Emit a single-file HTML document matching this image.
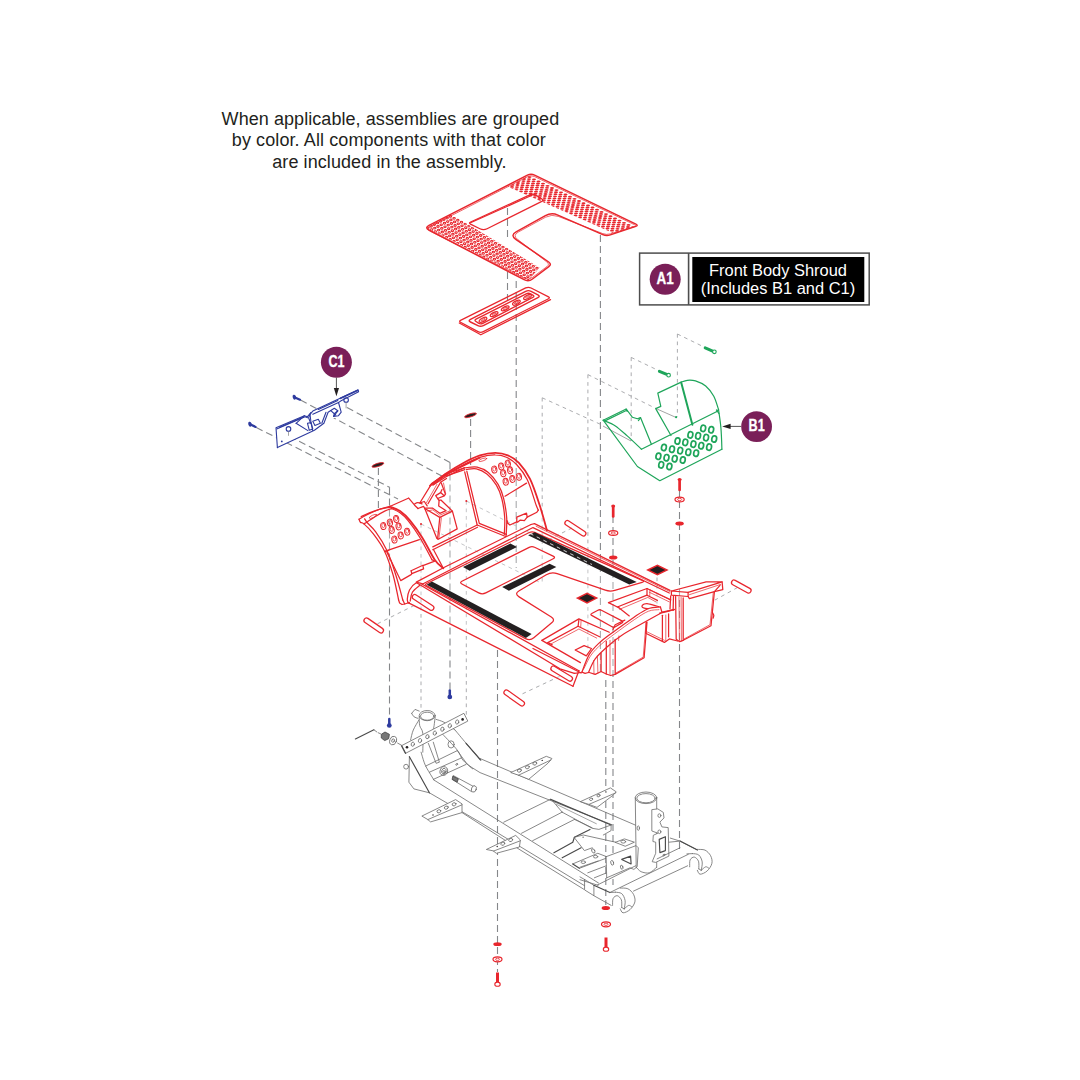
<!DOCTYPE html>
<html><head><meta charset="utf-8"><title>Front Body Shroud</title>
<style>
html,body{margin:0;padding:0;background:#fff;}
body{width:1080px;height:1080px;overflow:hidden;position:relative;font-family:"Liberation Sans",Arial,sans-serif;}
svg{position:absolute;left:0;top:0;}
.note{font-family:"Liberation Sans",Arial,sans-serif;font-size:18px;fill:#231f20;}
.r{stroke:#e8262d;fill:none;stroke-width:1.25;stroke-linejoin:round;stroke-linecap:round;}
.r2{stroke:#e8262d;fill:none;stroke-width:1.8;stroke-linejoin:round;stroke-linecap:round;}
.rt{stroke:#e8262d;fill:none;stroke-width:0.7;stroke-linejoin:round;stroke-linecap:round;}
.rd{stroke:#e8262d;fill:none;stroke-width:1.05;}
.rf{stroke:none;fill:#e8262d;}
.rw{stroke:#e8262d;fill:#fff;stroke-width:1.1;stroke-linejoin:round;}
.g{stroke:#1ea55a;fill:none;stroke-width:1.2;stroke-linejoin:round;stroke-linecap:round;}
.g2{stroke:#1ea55a;fill:none;stroke-width:2;stroke-linejoin:round;stroke-linecap:round;}
.gf{stroke:#1ea55a;fill:#1ea55a;stroke-width:0.6;}
.b{stroke:#2e3b9f;fill:none;stroke-width:1.1;stroke-linejoin:round;stroke-linecap:round;}
.b2{stroke:#2e3b9f;fill:none;stroke-width:1.8;stroke-linejoin:round;stroke-linecap:round;}
.bf{stroke:#2e3b9f;fill:#2e3b9f;stroke-width:0.6;}
.k{stroke:#6a6a6a;fill:none;stroke-width:0.8;stroke-linejoin:round;stroke-linecap:round;}
.kw{stroke:#6a6a6a;fill:#fff;stroke-width:0.8;stroke-linejoin:round;stroke-linecap:round;}
.k2{stroke:#4a4a4a;fill:none;stroke-width:1.15;stroke-linejoin:round;stroke-linecap:round;}
.kf{stroke:#444;fill:#777;stroke-width:0.8;}
.kt{stroke:#666;fill:none;stroke-width:0.6;}
.blk{fill:#231f20;stroke:none;}
.d{stroke:#85878a;fill:none;stroke-width:1.1;stroke-dasharray:7 4;}
.dt{stroke:#a1a3a6;fill:none;stroke-width:0.9;stroke-dasharray:3.7 3.8;}
.lbl{font-family:"Liberation Sans",Arial,sans-serif;font-weight:bold;font-size:16px;fill:#fff;text-anchor:middle;stroke:#fff;stroke-width:0.3;}
.lg{font-family:"Liberation Sans",Arial,sans-serif;font-size:16.45px;fill:#fff;text-anchor:middle;}
</style></head>
<body>
<svg width="1080" height="1080" viewBox="0 0 1080 1080">
<!-- note -->
<text class="note" x="221.6" y="124.5" textLength="337.6">When applicable, assemblies are grouped</text>
<text class="note" x="231.8" y="146" textLength="314">by color. All components with that color</text>
<text class="note" x="272.2" y="168" textLength="234.2">are included in the assembly.</text>
<!-- legend -->
<rect x="639.6" y="253.1" width="229.6" height="51.8" fill="#fff" stroke="#4d4d4d" stroke-width="1.5"/>
<line x1="688.6" y1="253.1" x2="688.6" y2="304.9" stroke="#4d4d4d" stroke-width="1.6"/>
<rect x="692.3" y="257" width="172" height="45" fill="#000"/>
<circle cx="665.2" cy="279.3" r="15.5" fill="#7a1f58"/>
<text class="lbl" x="665.2" y="283.7" textLength="17.2" lengthAdjust="spacingAndGlyphs">A1</text>
<text class="lg" x="778" y="276">Front Body Shroud</text>
<text class="lg" x="778" y="293.8">(Includes B1 and C1)</text>
<!-- dashes -->
<path class="d" d="M507.5 208 L507.5 241" />
<path class="d" d="M507.5 272 L507.5 300" />
<path class="d" d="M516.2 281 L516.2 568" />
<path class="d" d="M600.4 235 L600.4 672" />
<path class="d" d="M378.4 468 L378.4 511" />
<path class="d" d="M470.6 419 L470.6 465" />
<path class="d" d="M347 407.5 L450 462.5" />
<path class="d" d="M450 462.5 L450 690" />
<path class="d" d="M300.5 400 L442.5 476.3" />
<path class="d" d="M289.3 436.3 L390 487.5" />
<path class="d" d="M389.5 487.5 L389.5 717" />
<path class="d" d="M256.3 427.5 L398 499" />
<path class="dt" d="M421 524 L421 710" />
<path class="dt" d="M421 524 L542.2 583.5" />
<path class="dt" d="M466.3 501 L466.3 716" />
<path class="dt" d="M466.3 501 L587.9 562" />
<path class="dt" d="M542.2 397.8 L542.2 583.5" />
<path class="dt" d="M542.2 397.8 L603.3 425.6" />
<path class="dt" d="M587.9 374.6 L587.9 650" />
<path class="dt" d="M587.9 374.6 L655.7 408.4" />
<path class="dt" d="M631.2 357.4 L631.2 441" />
<path class="dt" d="M631.2 357.4 L658.8 370.7" />
<path class="dt" d="M677.4 334 L677.4 417" />
<path class="dt" d="M677.4 334 L704.6 347.3" />
<path class="kt" d="M655.7 408.4 L675 417" />
<path class="kt" d="M603 426 L631 441" />
<path class="d" d="M613 516 L613 885" />
<path class="d" d="M679.5 490 L679.5 850" />
<path class="d" d="M605.8 680 L605.8 905" />
<path class="d" d="M497.5 650 L497.5 972" />
<path class="dt" d="M657 577.5 L657 606" />
<path class="dt" d="M377.5 623.8 L415 605" />
<path class="dt" d="M522.5 693.8 L562.5 675" />
<path class="dt" d="M737.5 587.5 L715 600" />
<path class="dt" d="M572 528 L548 540" />
<!-- mat -->
<path class="r" d="M428.9 230 Q424.5 227.7 429 225.4 L527.4 175.2 Q531 173.4 534.6 175.1 L635.9 224.1 Q638.6 225.4 635.8 226.4 L610.3 234.9 Q606.5 236.2 602.8 234.6 L557.9 215.1 Q551.5 212.3 545.4 215.7 L516.1 231.9 Q510 235.3 515.8 239.3 L548.7 262 Q552 264.3 548.8 266.7 L532.5 279 Q528.5 282 524.1 279.7 Z" style="stroke-width:1.5"/>
<path class="rt" d="M430 231.1 Q425.5 228.9 430 226.6 L527.4 176.7 Q531 174.9 534.6 176.6 L634.4 224.7 Q637.1 226 634.2 226.8 L610.3 233.9 Q606.5 235 602.8 233.6 L558.3 216.4 Q551.8 213.9 545.6 217.2 L518.4 232 Q512.2 235.3 517.8 239.6 L546.8 261.9 Q550 264.3 546.8 266.7 L532.5 277.4 Q528.5 280.4 524 278.2 Z" />
<path class="r" d="M470.5 224.1 Q468.3 223 470.6 222 L530.3 194.6 Q533 193.3 535.5 194.9 L541.5 198.7 Q544 200.3 541.3 201.6 L487.1 228.8 Q483.5 230.6 479.9 228.8 Z" />
<path class="r" d="M470.5 222.8 L533 194.8" />
<clipPath id="cm1"><path d="M531 174.4 L636.6 225.7 L613.5 233.2 L507.6 186.6 Z"/></clipPath>
<g clip-path="url(#cm1)">
<ellipse class="rf" cx="507.5" cy="184.8" rx="2" ry="0.9" />
<ellipse class="rf" cx="507" cy="186.8" rx="2" ry="0.9" />
<ellipse class="rf" cx="513.5" cy="180.8" rx="2" ry="0.9" />
<ellipse class="rf" cx="513" cy="182.8" rx="2" ry="0.9" />
<ellipse class="rf" cx="512.5" cy="184.9" rx="2" ry="0.9" />
<ellipse class="rf" cx="512" cy="186.9" rx="2" ry="0.9" />
<ellipse class="rf" cx="511.5" cy="189" rx="2" ry="0.9" />
<ellipse class="rf" cx="519" cy="178.9" rx="2" ry="0.9" />
<ellipse class="rf" cx="518.5" cy="180.9" rx="2" ry="0.9" />
<ellipse class="rf" cx="518" cy="183" rx="2" ry="0.9" />
<ellipse class="rf" cx="517.5" cy="185" rx="2" ry="0.9" />
<ellipse class="rf" cx="517" cy="187.1" rx="2" ry="0.9" />
<ellipse class="rf" cx="516.5" cy="189.1" rx="2" ry="0.9" />
<ellipse class="rf" cx="516" cy="191.2" rx="2" ry="0.9" />
<ellipse class="rf" cx="525" cy="174.9" rx="2" ry="0.9" />
<ellipse class="rf" cx="524.5" cy="177" rx="2" ry="0.9" />
<ellipse class="rf" cx="524" cy="179" rx="2" ry="0.9" />
<ellipse class="rf" cx="523.5" cy="181.1" rx="2" ry="0.9" />
<ellipse class="rf" cx="523" cy="183.1" rx="2" ry="0.9" />
<ellipse class="rf" cx="522.5" cy="185.2" rx="2" ry="0.9" />
<ellipse class="rf" cx="522" cy="187.2" rx="2" ry="0.9" />
<ellipse class="rf" cx="521.5" cy="189.2" rx="2" ry="0.9" />
<ellipse class="rf" cx="521" cy="191.3" rx="2" ry="0.9" />
<ellipse class="rf" cx="520.5" cy="193.3" rx="2" ry="0.9" />
<ellipse class="rf" cx="529.5" cy="177.1" rx="2" ry="0.9" />
<ellipse class="rf" cx="529" cy="179.1" rx="2" ry="0.9" />
<ellipse class="rf" cx="528.5" cy="181.2" rx="2" ry="0.9" />
<ellipse class="rf" cx="528" cy="183.2" rx="2" ry="0.9" />
<ellipse class="rf" cx="527.5" cy="185.3" rx="2" ry="0.9" />
<ellipse class="rf" cx="527" cy="187.3" rx="2" ry="0.9" />
<ellipse class="rf" cx="526.5" cy="189.4" rx="2" ry="0.9" />
<ellipse class="rf" cx="526" cy="191.4" rx="2" ry="0.9" />
<ellipse class="rf" cx="525.5" cy="193.5" rx="2" ry="0.9" />
<ellipse class="rf" cx="525" cy="195.5" rx="2" ry="0.9" />
<ellipse class="rf" cx="534" cy="179.3" rx="2" ry="0.9" />
<ellipse class="rf" cx="533.5" cy="181.3" rx="2" ry="0.9" />
<ellipse class="rf" cx="533" cy="183.4" rx="2" ry="0.9" />
<ellipse class="rf" cx="532.5" cy="185.4" rx="2" ry="0.9" />
<ellipse class="rf" cx="532" cy="187.5" rx="2" ry="0.9" />
<ellipse class="rf" cx="531.5" cy="189.5" rx="2" ry="0.9" />
<ellipse class="rf" cx="531" cy="191.6" rx="2" ry="0.9" />
<ellipse class="rf" cx="530.5" cy="193.6" rx="2" ry="0.9" />
<ellipse class="rf" cx="530" cy="195.7" rx="2" ry="0.9" />
<ellipse class="rf" cx="529.5" cy="197.7" rx="2" ry="0.9" />
<ellipse class="rf" cx="538.5" cy="181.4" rx="2" ry="0.9" />
<ellipse class="rf" cx="538" cy="183.5" rx="2" ry="0.9" />
<ellipse class="rf" cx="537.5" cy="185.5" rx="2" ry="0.9" />
<ellipse class="rf" cx="537" cy="187.6" rx="2" ry="0.9" />
<ellipse class="rf" cx="536.5" cy="189.6" rx="2" ry="0.9" />
<ellipse class="rf" cx="536" cy="191.7" rx="2" ry="0.9" />
<ellipse class="rf" cx="535.5" cy="193.7" rx="2" ry="0.9" />
<ellipse class="rf" cx="535" cy="195.8" rx="2" ry="0.9" />
<ellipse class="rf" cx="534.5" cy="197.8" rx="2" ry="0.9" />
<ellipse class="rf" cx="534" cy="199.9" rx="2" ry="0.9" />
<ellipse class="rf" cx="543" cy="183.6" rx="2" ry="0.9" />
<ellipse class="rf" cx="542.5" cy="185.7" rx="2" ry="0.9" />
<ellipse class="rf" cx="542" cy="187.7" rx="2" ry="0.9" />
<ellipse class="rf" cx="541.5" cy="189.8" rx="2" ry="0.9" />
<ellipse class="rf" cx="541" cy="191.8" rx="2" ry="0.9" />
<ellipse class="rf" cx="540.5" cy="193.9" rx="2" ry="0.9" />
<ellipse class="rf" cx="540" cy="195.9" rx="2" ry="0.9" />
<ellipse class="rf" cx="539.5" cy="198" rx="2" ry="0.9" />
<ellipse class="rf" cx="539" cy="200" rx="2" ry="0.9" />
<ellipse class="rf" cx="538.5" cy="202.1" rx="2" ry="0.9" />
<ellipse class="rf" cx="547.5" cy="185.8" rx="2" ry="0.9" />
<ellipse class="rf" cx="547" cy="187.8" rx="2" ry="0.9" />
<ellipse class="rf" cx="546.5" cy="189.9" rx="2" ry="0.9" />
<ellipse class="rf" cx="546" cy="191.9" rx="2" ry="0.9" />
<ellipse class="rf" cx="545.5" cy="194" rx="2" ry="0.9" />
<ellipse class="rf" cx="545" cy="196" rx="2" ry="0.9" />
<ellipse class="rf" cx="544.5" cy="198.1" rx="2" ry="0.9" />
<ellipse class="rf" cx="544" cy="200.1" rx="2" ry="0.9" />
<ellipse class="rf" cx="543.5" cy="202.2" rx="2" ry="0.9" />
<ellipse class="rf" cx="543" cy="204.2" rx="2" ry="0.9" />
<ellipse class="rf" cx="552" cy="188" rx="2" ry="0.9" />
<ellipse class="rf" cx="551.5" cy="190" rx="2" ry="0.9" />
<ellipse class="rf" cx="551" cy="192.1" rx="2" ry="0.9" />
<ellipse class="rf" cx="550.5" cy="194.1" rx="2" ry="0.9" />
<ellipse class="rf" cx="550" cy="196.2" rx="2" ry="0.9" />
<ellipse class="rf" cx="549.5" cy="198.2" rx="2" ry="0.9" />
<ellipse class="rf" cx="549" cy="200.3" rx="2" ry="0.9" />
<ellipse class="rf" cx="548.5" cy="202.3" rx="2" ry="0.9" />
<ellipse class="rf" cx="548" cy="204.4" rx="2" ry="0.9" />
<ellipse class="rf" cx="547.5" cy="206.4" rx="2" ry="0.9" />
<ellipse class="rf" cx="556.5" cy="190.1" rx="2" ry="0.9" />
<ellipse class="rf" cx="556" cy="192.2" rx="2" ry="0.9" />
<ellipse class="rf" cx="555.5" cy="194.2" rx="2" ry="0.9" />
<ellipse class="rf" cx="555" cy="196.3" rx="2" ry="0.9" />
<ellipse class="rf" cx="554.5" cy="198.3" rx="2" ry="0.9" />
<ellipse class="rf" cx="554" cy="200.4" rx="2" ry="0.9" />
<ellipse class="rf" cx="553.5" cy="202.4" rx="2" ry="0.9" />
<ellipse class="rf" cx="553" cy="204.5" rx="2" ry="0.9" />
<ellipse class="rf" cx="552.5" cy="206.5" rx="2" ry="0.9" />
<ellipse class="rf" cx="552" cy="208.6" rx="2" ry="0.9" />
<ellipse class="rf" cx="561" cy="192.3" rx="2" ry="0.9" />
<ellipse class="rf" cx="560.5" cy="194.4" rx="2" ry="0.9" />
<ellipse class="rf" cx="560" cy="196.4" rx="2" ry="0.9" />
<ellipse class="rf" cx="559.5" cy="198.5" rx="2" ry="0.9" />
<ellipse class="rf" cx="559" cy="200.5" rx="2" ry="0.9" />
<ellipse class="rf" cx="558.5" cy="202.6" rx="2" ry="0.9" />
<ellipse class="rf" cx="558" cy="204.6" rx="2" ry="0.9" />
<ellipse class="rf" cx="557.5" cy="206.7" rx="2" ry="0.9" />
<ellipse class="rf" cx="557" cy="208.7" rx="2" ry="0.9" />
<ellipse class="rf" cx="556.5" cy="210.8" rx="2" ry="0.9" />
<ellipse class="rf" cx="565.5" cy="194.5" rx="2" ry="0.9" />
<ellipse class="rf" cx="565" cy="196.5" rx="2" ry="0.9" />
<ellipse class="rf" cx="564.5" cy="198.6" rx="2" ry="0.9" />
<ellipse class="rf" cx="564" cy="200.6" rx="2" ry="0.9" />
<ellipse class="rf" cx="563.5" cy="202.7" rx="2" ry="0.9" />
<ellipse class="rf" cx="563" cy="204.7" rx="2" ry="0.9" />
<ellipse class="rf" cx="562.5" cy="206.8" rx="2" ry="0.9" />
<ellipse class="rf" cx="562" cy="208.8" rx="2" ry="0.9" />
<ellipse class="rf" cx="561.5" cy="210.9" rx="2" ry="0.9" />
<ellipse class="rf" cx="570" cy="196.7" rx="2" ry="0.9" />
<ellipse class="rf" cx="569.5" cy="198.7" rx="2" ry="0.9" />
<ellipse class="rf" cx="569" cy="200.8" rx="2" ry="0.9" />
<ellipse class="rf" cx="568.5" cy="202.8" rx="2" ry="0.9" />
<ellipse class="rf" cx="568" cy="204.9" rx="2" ry="0.9" />
<ellipse class="rf" cx="567.5" cy="206.9" rx="2" ry="0.9" />
<ellipse class="rf" cx="567" cy="209" rx="2" ry="0.9" />
<ellipse class="rf" cx="566.5" cy="211" rx="2" ry="0.9" />
<ellipse class="rf" cx="566" cy="213.1" rx="2" ry="0.9" />
<ellipse class="rf" cx="574.5" cy="198.8" rx="2" ry="0.9" />
<ellipse class="rf" cx="574" cy="200.9" rx="2" ry="0.9" />
<ellipse class="rf" cx="573.5" cy="202.9" rx="2" ry="0.9" />
<ellipse class="rf" cx="573" cy="205" rx="2" ry="0.9" />
<ellipse class="rf" cx="572.5" cy="207" rx="2" ry="0.9" />
<ellipse class="rf" cx="572" cy="209.1" rx="2" ry="0.9" />
<ellipse class="rf" cx="571.5" cy="211.1" rx="2" ry="0.9" />
<ellipse class="rf" cx="571" cy="213.2" rx="2" ry="0.9" />
<ellipse class="rf" cx="570.5" cy="215.2" rx="2" ry="0.9" />
<ellipse class="rf" cx="579" cy="201" rx="2" ry="0.9" />
<ellipse class="rf" cx="578.5" cy="203.1" rx="2" ry="0.9" />
<ellipse class="rf" cx="578" cy="205.1" rx="2" ry="0.9" />
<ellipse class="rf" cx="577.5" cy="207.2" rx="2" ry="0.9" />
<ellipse class="rf" cx="577" cy="209.2" rx="2" ry="0.9" />
<ellipse class="rf" cx="576.5" cy="211.3" rx="2" ry="0.9" />
<ellipse class="rf" cx="576" cy="213.3" rx="2" ry="0.9" />
<ellipse class="rf" cx="575.5" cy="215.4" rx="2" ry="0.9" />
<ellipse class="rf" cx="575" cy="217.4" rx="2" ry="0.9" />
<ellipse class="rf" cx="583.5" cy="203.2" rx="2" ry="0.9" />
<ellipse class="rf" cx="583" cy="205.2" rx="2" ry="0.9" />
<ellipse class="rf" cx="582.5" cy="207.3" rx="2" ry="0.9" />
<ellipse class="rf" cx="582" cy="209.3" rx="2" ry="0.9" />
<ellipse class="rf" cx="581.5" cy="211.4" rx="2" ry="0.9" />
<ellipse class="rf" cx="581" cy="213.4" rx="2" ry="0.9" />
<ellipse class="rf" cx="580.5" cy="215.5" rx="2" ry="0.9" />
<ellipse class="rf" cx="580" cy="217.5" rx="2" ry="0.9" />
<ellipse class="rf" cx="579.5" cy="219.6" rx="2" ry="0.9" />
<ellipse class="rf" cx="588" cy="205.4" rx="2" ry="0.9" />
<ellipse class="rf" cx="587.5" cy="207.4" rx="2" ry="0.9" />
<ellipse class="rf" cx="587" cy="209.5" rx="2" ry="0.9" />
<ellipse class="rf" cx="586.5" cy="211.5" rx="2" ry="0.9" />
<ellipse class="rf" cx="586" cy="213.6" rx="2" ry="0.9" />
<ellipse class="rf" cx="585.5" cy="215.6" rx="2" ry="0.9" />
<ellipse class="rf" cx="585" cy="217.7" rx="2" ry="0.9" />
<ellipse class="rf" cx="584.5" cy="219.7" rx="2" ry="0.9" />
<ellipse class="rf" cx="584" cy="221.8" rx="2" ry="0.9" />
<ellipse class="rf" cx="592.5" cy="207.5" rx="2" ry="0.9" />
<ellipse class="rf" cx="592" cy="209.6" rx="2" ry="0.9" />
<ellipse class="rf" cx="591.5" cy="211.6" rx="2" ry="0.9" />
<ellipse class="rf" cx="591" cy="213.7" rx="2" ry="0.9" />
<ellipse class="rf" cx="590.5" cy="215.7" rx="2" ry="0.9" />
<ellipse class="rf" cx="590" cy="217.8" rx="2" ry="0.9" />
<ellipse class="rf" cx="589.5" cy="219.8" rx="2" ry="0.9" />
<ellipse class="rf" cx="589" cy="221.9" rx="2" ry="0.9" />
<ellipse class="rf" cx="588.5" cy="223.9" rx="2" ry="0.9" />
<ellipse class="rf" cx="597" cy="209.7" rx="2" ry="0.9" />
<ellipse class="rf" cx="596.5" cy="211.8" rx="2" ry="0.9" />
<ellipse class="rf" cx="596" cy="213.8" rx="2" ry="0.9" />
<ellipse class="rf" cx="595.5" cy="215.9" rx="2" ry="0.9" />
<ellipse class="rf" cx="595" cy="217.9" rx="2" ry="0.9" />
<ellipse class="rf" cx="594.5" cy="220" rx="2" ry="0.9" />
<ellipse class="rf" cx="594" cy="222" rx="2" ry="0.9" />
<ellipse class="rf" cx="593.5" cy="224.1" rx="2" ry="0.9" />
<ellipse class="rf" cx="593" cy="226.1" rx="2" ry="0.9" />
<ellipse class="rf" cx="601.5" cy="211.9" rx="2" ry="0.9" />
<ellipse class="rf" cx="601" cy="213.9" rx="2" ry="0.9" />
<ellipse class="rf" cx="600.5" cy="216" rx="2" ry="0.9" />
<ellipse class="rf" cx="600" cy="218" rx="2" ry="0.9" />
<ellipse class="rf" cx="599.5" cy="220.1" rx="2" ry="0.9" />
<ellipse class="rf" cx="599" cy="222.1" rx="2" ry="0.9" />
<ellipse class="rf" cx="598.5" cy="224.2" rx="2" ry="0.9" />
<ellipse class="rf" cx="598" cy="226.2" rx="2" ry="0.9" />
<ellipse class="rf" cx="597.5" cy="228.3" rx="2" ry="0.9" />
<ellipse class="rf" cx="606" cy="214.1" rx="2" ry="0.9" />
<ellipse class="rf" cx="605.5" cy="216.1" rx="2" ry="0.9" />
<ellipse class="rf" cx="605" cy="218.2" rx="2" ry="0.9" />
<ellipse class="rf" cx="604.5" cy="220.2" rx="2" ry="0.9" />
<ellipse class="rf" cx="604" cy="222.3" rx="2" ry="0.9" />
<ellipse class="rf" cx="603.5" cy="224.3" rx="2" ry="0.9" />
<ellipse class="rf" cx="603" cy="226.4" rx="2" ry="0.9" />
<ellipse class="rf" cx="602.5" cy="228.4" rx="2" ry="0.9" />
<ellipse class="rf" cx="602" cy="230.5" rx="2" ry="0.9" />
<ellipse class="rf" cx="610.5" cy="216.2" rx="2" ry="0.9" />
<ellipse class="rf" cx="610" cy="218.3" rx="2" ry="0.9" />
<ellipse class="rf" cx="609.5" cy="220.3" rx="2" ry="0.9" />
<ellipse class="rf" cx="609" cy="222.4" rx="2" ry="0.9" />
<ellipse class="rf" cx="608.5" cy="224.4" rx="2" ry="0.9" />
<ellipse class="rf" cx="608" cy="226.5" rx="2" ry="0.9" />
<ellipse class="rf" cx="607.5" cy="228.5" rx="2" ry="0.9" />
<ellipse class="rf" cx="607" cy="230.6" rx="2" ry="0.9" />
<ellipse class="rf" cx="606.5" cy="232.6" rx="2" ry="0.9" />
<ellipse class="rf" cx="615" cy="218.4" rx="2" ry="0.9" />
<ellipse class="rf" cx="614.5" cy="220.5" rx="2" ry="0.9" />
<ellipse class="rf" cx="614" cy="222.5" rx="2" ry="0.9" />
<ellipse class="rf" cx="613.5" cy="224.6" rx="2" ry="0.9" />
<ellipse class="rf" cx="613" cy="226.6" rx="2" ry="0.9" />
<ellipse class="rf" cx="612.5" cy="228.7" rx="2" ry="0.9" />
<ellipse class="rf" cx="612" cy="230.7" rx="2" ry="0.9" />
<ellipse class="rf" cx="611.5" cy="232.8" rx="2" ry="0.9" />
<ellipse class="rf" cx="611" cy="234.8" rx="2" ry="0.9" />
<ellipse class="rf" cx="619.5" cy="220.6" rx="2" ry="0.9" />
<ellipse class="rf" cx="619" cy="222.6" rx="2" ry="0.9" />
<ellipse class="rf" cx="618.5" cy="224.7" rx="2" ry="0.9" />
<ellipse class="rf" cx="618" cy="226.7" rx="2" ry="0.9" />
<ellipse class="rf" cx="617.5" cy="228.8" rx="2" ry="0.9" />
<ellipse class="rf" cx="617" cy="230.8" rx="2" ry="0.9" />
<ellipse class="rf" cx="616.5" cy="232.9" rx="2" ry="0.9" />
<ellipse class="rf" cx="616" cy="234.9" rx="2" ry="0.9" />
<ellipse class="rf" cx="624" cy="222.8" rx="2" ry="0.9" />
<ellipse class="rf" cx="623.5" cy="224.8" rx="2" ry="0.9" />
<ellipse class="rf" cx="623" cy="226.9" rx="2" ry="0.9" />
<ellipse class="rf" cx="622.5" cy="228.9" rx="2" ry="0.9" />
<ellipse class="rf" cx="622" cy="231" rx="2" ry="0.9" />
<ellipse class="rf" cx="621.5" cy="233" rx="2" ry="0.9" />
<ellipse class="rf" cx="628.5" cy="224.9" rx="2" ry="0.9" />
<ellipse class="rf" cx="628" cy="227" rx="2" ry="0.9" />
<ellipse class="rf" cx="627.5" cy="229" rx="2" ry="0.9" />
<ellipse class="rf" cx="627" cy="231.1" rx="2" ry="0.9" />
<ellipse class="rf" cx="633" cy="227.1" rx="2" ry="0.9" />
<ellipse class="rf" cx="632.5" cy="229.2" rx="2" ry="0.9" />
</g>
<clipPath id="cm2"><path d="M426.5 227.7 L451 214 L539.5 267.8 L528.5 280.5 Z"/></clipPath>
<g clip-path="url(#cm2)">
<ellipse class="rd" cx="427.9" cy="227.8" rx="1.2" ry="0.9" />
<ellipse class="rd" cx="431.1" cy="226.2" rx="1.2" ry="0.9" />
<ellipse class="rd" cx="434.3" cy="224.5" rx="1.2" ry="0.9" />
<ellipse class="rd" cx="437.5" cy="222.9" rx="1.2" ry="0.9" />
<ellipse class="rd" cx="440.7" cy="221.3" rx="1.2" ry="0.9" />
<ellipse class="rd" cx="443.9" cy="219.6" rx="1.2" ry="0.9" />
<ellipse class="rd" cx="447.1" cy="218" rx="1.2" ry="0.9" />
<ellipse class="rd" cx="450.4" cy="216.4" rx="1.2" ry="0.9" />
<ellipse class="rd" cx="431.6" cy="229.7" rx="1.2" ry="0.9" />
<ellipse class="rd" cx="434.8" cy="228.1" rx="1.2" ry="0.9" />
<ellipse class="rd" cx="438" cy="226.5" rx="1.2" ry="0.9" />
<ellipse class="rd" cx="441.2" cy="224.8" rx="1.2" ry="0.9" />
<ellipse class="rd" cx="444.5" cy="223.2" rx="1.2" ry="0.9" />
<ellipse class="rd" cx="447.7" cy="221.6" rx="1.2" ry="0.9" />
<ellipse class="rd" cx="450.9" cy="219.9" rx="1.2" ry="0.9" />
<ellipse class="rd" cx="454.1" cy="218.3" rx="1.2" ry="0.9" />
<ellipse class="rd" cx="435.3" cy="231.7" rx="1.2" ry="0.9" />
<ellipse class="rd" cx="438.6" cy="230.1" rx="1.2" ry="0.9" />
<ellipse class="rd" cx="441.8" cy="228.4" rx="1.2" ry="0.9" />
<ellipse class="rd" cx="445" cy="226.8" rx="1.2" ry="0.9" />
<ellipse class="rd" cx="448.2" cy="225.1" rx="1.2" ry="0.9" />
<ellipse class="rd" cx="451.4" cy="223.5" rx="1.2" ry="0.9" />
<ellipse class="rd" cx="454.6" cy="221.9" rx="1.2" ry="0.9" />
<ellipse class="rd" cx="457.8" cy="220.2" rx="1.2" ry="0.9" />
<ellipse class="rd" cx="439.1" cy="233.6" rx="1.2" ry="0.9" />
<ellipse class="rd" cx="442.3" cy="232" rx="1.2" ry="0.9" />
<ellipse class="rd" cx="445.5" cy="230.4" rx="1.2" ry="0.9" />
<ellipse class="rd" cx="448.7" cy="228.7" rx="1.2" ry="0.9" />
<ellipse class="rd" cx="451.9" cy="227.1" rx="1.2" ry="0.9" />
<ellipse class="rd" cx="455.1" cy="225.5" rx="1.2" ry="0.9" />
<ellipse class="rd" cx="458.3" cy="223.8" rx="1.2" ry="0.9" />
<ellipse class="rd" cx="461.5" cy="222.2" rx="1.2" ry="0.9" />
<ellipse class="rd" cx="442.8" cy="235.6" rx="1.2" ry="0.9" />
<ellipse class="rd" cx="446" cy="233.9" rx="1.2" ry="0.9" />
<ellipse class="rd" cx="449.2" cy="232.3" rx="1.2" ry="0.9" />
<ellipse class="rd" cx="452.4" cy="230.7" rx="1.2" ry="0.9" />
<ellipse class="rd" cx="455.6" cy="229" rx="1.2" ry="0.9" />
<ellipse class="rd" cx="458.8" cy="227.4" rx="1.2" ry="0.9" />
<ellipse class="rd" cx="462" cy="225.8" rx="1.2" ry="0.9" />
<ellipse class="rd" cx="465.2" cy="224.1" rx="1.2" ry="0.9" />
<ellipse class="rd" cx="446.5" cy="237.5" rx="1.2" ry="0.9" />
<ellipse class="rd" cx="449.7" cy="235.9" rx="1.2" ry="0.9" />
<ellipse class="rd" cx="452.9" cy="234.2" rx="1.2" ry="0.9" />
<ellipse class="rd" cx="456.1" cy="232.6" rx="1.2" ry="0.9" />
<ellipse class="rd" cx="459.3" cy="231" rx="1.2" ry="0.9" />
<ellipse class="rd" cx="462.6" cy="229.3" rx="1.2" ry="0.9" />
<ellipse class="rd" cx="465.8" cy="227.7" rx="1.2" ry="0.9" />
<ellipse class="rd" cx="469" cy="226.1" rx="1.2" ry="0.9" />
<ellipse class="rd" cx="450.2" cy="239.5" rx="1.2" ry="0.9" />
<ellipse class="rd" cx="453.4" cy="237.8" rx="1.2" ry="0.9" />
<ellipse class="rd" cx="456.7" cy="236.2" rx="1.2" ry="0.9" />
<ellipse class="rd" cx="459.9" cy="234.6" rx="1.2" ry="0.9" />
<ellipse class="rd" cx="463.1" cy="232.9" rx="1.2" ry="0.9" />
<ellipse class="rd" cx="466.3" cy="231.3" rx="1.2" ry="0.9" />
<ellipse class="rd" cx="469.5" cy="229.7" rx="1.2" ry="0.9" />
<ellipse class="rd" cx="472.7" cy="228" rx="1.2" ry="0.9" />
<ellipse class="rd" cx="454" cy="241.4" rx="1.2" ry="0.9" />
<ellipse class="rd" cx="457.2" cy="239.8" rx="1.2" ry="0.9" />
<ellipse class="rd" cx="460.4" cy="238.1" rx="1.2" ry="0.9" />
<ellipse class="rd" cx="463.6" cy="236.5" rx="1.2" ry="0.9" />
<ellipse class="rd" cx="466.8" cy="234.9" rx="1.2" ry="0.9" />
<ellipse class="rd" cx="470" cy="233.2" rx="1.2" ry="0.9" />
<ellipse class="rd" cx="473.2" cy="231.6" rx="1.2" ry="0.9" />
<ellipse class="rd" cx="476.4" cy="230" rx="1.2" ry="0.9" />
<ellipse class="rd" cx="457.7" cy="243.4" rx="1.2" ry="0.9" />
<ellipse class="rd" cx="460.9" cy="241.7" rx="1.2" ry="0.9" />
<ellipse class="rd" cx="464.1" cy="240.1" rx="1.2" ry="0.9" />
<ellipse class="rd" cx="467.3" cy="238.4" rx="1.2" ry="0.9" />
<ellipse class="rd" cx="470.5" cy="236.8" rx="1.2" ry="0.9" />
<ellipse class="rd" cx="473.7" cy="235.2" rx="1.2" ry="0.9" />
<ellipse class="rd" cx="476.9" cy="233.5" rx="1.2" ry="0.9" />
<ellipse class="rd" cx="480.1" cy="231.9" rx="1.2" ry="0.9" />
<ellipse class="rd" cx="461.4" cy="245.3" rx="1.2" ry="0.9" />
<ellipse class="rd" cx="464.6" cy="243.7" rx="1.2" ry="0.9" />
<ellipse class="rd" cx="467.8" cy="242" rx="1.2" ry="0.9" />
<ellipse class="rd" cx="471" cy="240.4" rx="1.2" ry="0.9" />
<ellipse class="rd" cx="474.2" cy="238.8" rx="1.2" ry="0.9" />
<ellipse class="rd" cx="477.4" cy="237.1" rx="1.2" ry="0.9" />
<ellipse class="rd" cx="480.7" cy="235.5" rx="1.2" ry="0.9" />
<ellipse class="rd" cx="483.9" cy="233.8" rx="1.2" ry="0.9" />
<ellipse class="rd" cx="465.1" cy="247.2" rx="1.2" ry="0.9" />
<ellipse class="rd" cx="468.3" cy="245.6" rx="1.2" ry="0.9" />
<ellipse class="rd" cx="471.5" cy="244" rx="1.2" ry="0.9" />
<ellipse class="rd" cx="474.8" cy="242.3" rx="1.2" ry="0.9" />
<ellipse class="rd" cx="478" cy="240.7" rx="1.2" ry="0.9" />
<ellipse class="rd" cx="481.2" cy="239.1" rx="1.2" ry="0.9" />
<ellipse class="rd" cx="484.4" cy="237.4" rx="1.2" ry="0.9" />
<ellipse class="rd" cx="487.6" cy="235.8" rx="1.2" ry="0.9" />
<ellipse class="rd" cx="468.9" cy="249.2" rx="1.2" ry="0.9" />
<ellipse class="rd" cx="472.1" cy="247.5" rx="1.2" ry="0.9" />
<ellipse class="rd" cx="475.3" cy="245.9" rx="1.2" ry="0.9" />
<ellipse class="rd" cx="478.5" cy="244.3" rx="1.2" ry="0.9" />
<ellipse class="rd" cx="481.7" cy="242.6" rx="1.2" ry="0.9" />
<ellipse class="rd" cx="484.9" cy="241" rx="1.2" ry="0.9" />
<ellipse class="rd" cx="488.1" cy="239.4" rx="1.2" ry="0.9" />
<ellipse class="rd" cx="491.3" cy="237.7" rx="1.2" ry="0.9" />
<ellipse class="rd" cx="472.6" cy="251.1" rx="1.2" ry="0.9" />
<ellipse class="rd" cx="475.8" cy="249.5" rx="1.2" ry="0.9" />
<ellipse class="rd" cx="479" cy="247.9" rx="1.2" ry="0.9" />
<ellipse class="rd" cx="482.2" cy="246.2" rx="1.2" ry="0.9" />
<ellipse class="rd" cx="485.4" cy="244.6" rx="1.2" ry="0.9" />
<ellipse class="rd" cx="488.6" cy="243" rx="1.2" ry="0.9" />
<ellipse class="rd" cx="491.8" cy="241.3" rx="1.2" ry="0.9" />
<ellipse class="rd" cx="495" cy="239.7" rx="1.2" ry="0.9" />
<ellipse class="rd" cx="476.3" cy="253.1" rx="1.2" ry="0.9" />
<ellipse class="rd" cx="479.5" cy="251.4" rx="1.2" ry="0.9" />
<ellipse class="rd" cx="482.7" cy="249.8" rx="1.2" ry="0.9" />
<ellipse class="rd" cx="485.9" cy="248.2" rx="1.2" ry="0.9" />
<ellipse class="rd" cx="489.1" cy="246.5" rx="1.2" ry="0.9" />
<ellipse class="rd" cx="492.3" cy="244.9" rx="1.2" ry="0.9" />
<ellipse class="rd" cx="495.5" cy="243.3" rx="1.2" ry="0.9" />
<ellipse class="rd" cx="498.8" cy="241.6" rx="1.2" ry="0.9" />
<ellipse class="rd" cx="480" cy="255" rx="1.2" ry="0.9" />
<ellipse class="rd" cx="483.2" cy="253.4" rx="1.2" ry="0.9" />
<ellipse class="rd" cx="486.4" cy="251.7" rx="1.2" ry="0.9" />
<ellipse class="rd" cx="489.6" cy="250.1" rx="1.2" ry="0.9" />
<ellipse class="rd" cx="492.9" cy="248.5" rx="1.2" ry="0.9" />
<ellipse class="rd" cx="496.1" cy="246.8" rx="1.2" ry="0.9" />
<ellipse class="rd" cx="499.3" cy="245.2" rx="1.2" ry="0.9" />
<ellipse class="rd" cx="502.5" cy="243.6" rx="1.2" ry="0.9" />
<ellipse class="rd" cx="483.7" cy="257" rx="1.2" ry="0.9" />
<ellipse class="rd" cx="487" cy="255.3" rx="1.2" ry="0.9" />
<ellipse class="rd" cx="490.2" cy="253.7" rx="1.2" ry="0.9" />
<ellipse class="rd" cx="493.4" cy="252.1" rx="1.2" ry="0.9" />
<ellipse class="rd" cx="496.6" cy="250.4" rx="1.2" ry="0.9" />
<ellipse class="rd" cx="499.8" cy="248.8" rx="1.2" ry="0.9" />
<ellipse class="rd" cx="503" cy="247.1" rx="1.2" ry="0.9" />
<ellipse class="rd" cx="506.2" cy="245.5" rx="1.2" ry="0.9" />
<ellipse class="rd" cx="487.5" cy="258.9" rx="1.2" ry="0.9" />
<ellipse class="rd" cx="490.7" cy="257.3" rx="1.2" ry="0.9" />
<ellipse class="rd" cx="493.9" cy="255.6" rx="1.2" ry="0.9" />
<ellipse class="rd" cx="497.1" cy="254" rx="1.2" ry="0.9" />
<ellipse class="rd" cx="500.3" cy="252.4" rx="1.2" ry="0.9" />
<ellipse class="rd" cx="503.5" cy="250.7" rx="1.2" ry="0.9" />
<ellipse class="rd" cx="506.7" cy="249.1" rx="1.2" ry="0.9" />
<ellipse class="rd" cx="509.9" cy="247.5" rx="1.2" ry="0.9" />
<ellipse class="rd" cx="491.2" cy="260.8" rx="1.2" ry="0.9" />
<ellipse class="rd" cx="494.4" cy="259.2" rx="1.2" ry="0.9" />
<ellipse class="rd" cx="497.6" cy="257.6" rx="1.2" ry="0.9" />
<ellipse class="rd" cx="500.8" cy="255.9" rx="1.2" ry="0.9" />
<ellipse class="rd" cx="504" cy="254.3" rx="1.2" ry="0.9" />
<ellipse class="rd" cx="507.2" cy="252.7" rx="1.2" ry="0.9" />
<ellipse class="rd" cx="510.4" cy="251" rx="1.2" ry="0.9" />
<ellipse class="rd" cx="513.6" cy="249.4" rx="1.2" ry="0.9" />
<ellipse class="rd" cx="494.9" cy="262.8" rx="1.2" ry="0.9" />
<ellipse class="rd" cx="498.1" cy="261.2" rx="1.2" ry="0.9" />
<ellipse class="rd" cx="501.3" cy="259.5" rx="1.2" ry="0.9" />
<ellipse class="rd" cx="504.5" cy="257.9" rx="1.2" ry="0.9" />
<ellipse class="rd" cx="507.7" cy="256.2" rx="1.2" ry="0.9" />
<ellipse class="rd" cx="511" cy="254.6" rx="1.2" ry="0.9" />
<ellipse class="rd" cx="514.2" cy="253" rx="1.2" ry="0.9" />
<ellipse class="rd" cx="498.6" cy="264.7" rx="1.2" ry="0.9" />
<ellipse class="rd" cx="501.8" cy="263.1" rx="1.2" ry="0.9" />
<ellipse class="rd" cx="505.1" cy="261.5" rx="1.2" ry="0.9" />
<ellipse class="rd" cx="508.3" cy="259.8" rx="1.2" ry="0.9" />
<ellipse class="rd" cx="511.5" cy="258.2" rx="1.2" ry="0.9" />
<ellipse class="rd" cx="514.7" cy="256.6" rx="1.2" ry="0.9" />
<ellipse class="rd" cx="517.9" cy="254.9" rx="1.2" ry="0.9" />
<ellipse class="rd" cx="502.4" cy="266.7" rx="1.2" ry="0.9" />
<ellipse class="rd" cx="505.6" cy="265" rx="1.2" ry="0.9" />
<ellipse class="rd" cx="508.8" cy="263.4" rx="1.2" ry="0.9" />
<ellipse class="rd" cx="512" cy="261.8" rx="1.2" ry="0.9" />
<ellipse class="rd" cx="515.2" cy="260.1" rx="1.2" ry="0.9" />
<ellipse class="rd" cx="518.4" cy="258.5" rx="1.2" ry="0.9" />
<ellipse class="rd" cx="521.6" cy="256.9" rx="1.2" ry="0.9" />
<ellipse class="rd" cx="506.1" cy="268.6" rx="1.2" ry="0.9" />
<ellipse class="rd" cx="509.3" cy="267" rx="1.2" ry="0.9" />
<ellipse class="rd" cx="512.5" cy="265.4" rx="1.2" ry="0.9" />
<ellipse class="rd" cx="515.7" cy="263.7" rx="1.2" ry="0.9" />
<ellipse class="rd" cx="518.9" cy="262.1" rx="1.2" ry="0.9" />
<ellipse class="rd" cx="522.1" cy="260.4" rx="1.2" ry="0.9" />
<ellipse class="rd" cx="525.3" cy="258.8" rx="1.2" ry="0.9" />
<ellipse class="rd" cx="509.8" cy="270.6" rx="1.2" ry="0.9" />
<ellipse class="rd" cx="513" cy="268.9" rx="1.2" ry="0.9" />
<ellipse class="rd" cx="516.2" cy="267.3" rx="1.2" ry="0.9" />
<ellipse class="rd" cx="519.4" cy="265.7" rx="1.2" ry="0.9" />
<ellipse class="rd" cx="522.6" cy="264" rx="1.2" ry="0.9" />
<ellipse class="rd" cx="525.8" cy="262.4" rx="1.2" ry="0.9" />
<ellipse class="rd" cx="529.1" cy="260.8" rx="1.2" ry="0.9" />
<ellipse class="rd" cx="513.5" cy="272.5" rx="1.2" ry="0.9" />
<ellipse class="rd" cx="516.7" cy="270.9" rx="1.2" ry="0.9" />
<ellipse class="rd" cx="519.9" cy="269.2" rx="1.2" ry="0.9" />
<ellipse class="rd" cx="523.2" cy="267.6" rx="1.2" ry="0.9" />
<ellipse class="rd" cx="526.4" cy="266" rx="1.2" ry="0.9" />
<ellipse class="rd" cx="529.6" cy="264.3" rx="1.2" ry="0.9" />
<ellipse class="rd" cx="532.8" cy="262.7" rx="1.2" ry="0.9" />
<ellipse class="rd" cx="517.3" cy="274.5" rx="1.2" ry="0.9" />
<ellipse class="rd" cx="520.5" cy="272.8" rx="1.2" ry="0.9" />
<ellipse class="rd" cx="523.7" cy="271.2" rx="1.2" ry="0.9" />
<ellipse class="rd" cx="526.9" cy="269.5" rx="1.2" ry="0.9" />
<ellipse class="rd" cx="530.1" cy="267.9" rx="1.2" ry="0.9" />
<ellipse class="rd" cx="533.3" cy="266.3" rx="1.2" ry="0.9" />
<ellipse class="rd" cx="536.5" cy="264.6" rx="1.2" ry="0.9" />
<ellipse class="rd" cx="521" cy="276.4" rx="1.2" ry="0.9" />
<ellipse class="rd" cx="524.2" cy="274.8" rx="1.2" ry="0.9" />
<ellipse class="rd" cx="527.4" cy="273.1" rx="1.2" ry="0.9" />
<ellipse class="rd" cx="530.6" cy="271.5" rx="1.2" ry="0.9" />
<ellipse class="rd" cx="533.8" cy="269.9" rx="1.2" ry="0.9" />
<ellipse class="rd" cx="537" cy="268.2" rx="1.2" ry="0.9" />
<ellipse class="rd" cx="540.2" cy="266.6" rx="1.2" ry="0.9" />
<ellipse class="rd" cx="524.7" cy="278.3" rx="1.2" ry="0.9" />
<ellipse class="rd" cx="527.9" cy="276.7" rx="1.2" ry="0.9" />
<ellipse class="rd" cx="531.1" cy="275.1" rx="1.2" ry="0.9" />
<ellipse class="rd" cx="534.3" cy="273.4" rx="1.2" ry="0.9" />
<ellipse class="rd" cx="537.5" cy="271.8" rx="1.2" ry="0.9" />
<ellipse class="rd" cx="540.7" cy="270.2" rx="1.2" ry="0.9" />
<ellipse class="rd" cx="528.4" cy="280.3" rx="1.2" ry="0.9" />
<ellipse class="rd" cx="531.6" cy="278.6" rx="1.2" ry="0.9" />
</g>
<!-- plate -->
<path class="r" d="M460.5 322.2 Q458.7 321.3 460.5 320.4 L525.7 287.9 Q528.4 286.6 531.1 288 L548.5 296.9 Q550.3 297.8 548.5 298.7 L483.3 331.6 Q480.6 333 478 331.6 Z" />
<path class="r" d="M459.3 323 L480.8 334.8 L550.5 299.6" />
<path class="r" d="M470.5 322 Q467.8 320.7 470.5 319.3 L525.7 291.3 Q528.4 289.9 531.1 291.3 L537.9 294.9 Q540.6 296.3 537.9 297.7 L483.3 325.6 Q480.6 327 477.9 325.7 Z" style="stroke-width:1.4"/>
<path class="r" d="M476 321.5 Q473.9 320.2 476.1 319.1 L526.2 293.8 Q528.4 292.7 530.6 293.9 L532.8 295.1 Q535 296.3 532.8 297.4 L482.8 323.3 Q480.6 324.4 478.5 323.1 Z" style="stroke-width:1.3"/>
<ellipse class="r" cx="483" cy="319.8" rx="4.2" ry="1.7" transform="rotate(-26.5 483 319.8)" />
<ellipse class="rt" cx="483" cy="319.8" rx="2.2" ry="0.7" transform="rotate(-26.5 483 319.8)" />
<ellipse class="r" cx="494.1" cy="314.1" rx="4.2" ry="1.7" transform="rotate(-26.5 494.1 314.1)" />
<ellipse class="rt" cx="494.1" cy="314.1" rx="2.2" ry="0.7" transform="rotate(-26.5 494.1 314.1)" />
<ellipse class="r" cx="505.2" cy="308.4" rx="4.2" ry="1.7" transform="rotate(-26.5 505.2 308.4)" />
<ellipse class="rt" cx="505.2" cy="308.4" rx="2.2" ry="0.7" transform="rotate(-26.5 505.2 308.4)" />
<ellipse class="r" cx="516.4" cy="302.7" rx="4.2" ry="1.7" transform="rotate(-26.5 516.4 302.7)" />
<ellipse class="rt" cx="516.4" cy="302.7" rx="2.2" ry="0.7" transform="rotate(-26.5 516.4 302.7)" />
<ellipse class="r" cx="527.5" cy="297" rx="4.2" ry="1.7" transform="rotate(-26.5 527.5 297)" />
<ellipse class="rt" cx="527.5" cy="297" rx="2.2" ry="0.7" transform="rotate(-26.5 527.5 297)" />
<!-- green -->
<path class="g" d="M603.2 420.2 L637.4 466.5 L659.8 480.7 L721.9 449.2" />
<path class="g" d="M721.9 449.2 C721.8 445.6 721.5 434.4 720.9 427.8 C720.4 421.2 718.9 412.5 718.5 409.4" />
<path class="g" d="M718.5 409.4 C717.7 407.2 715.9 400.1 713.8 396.2 C711.7 392.3 708.7 388.6 705.7 386 C702.6 383.5 698.5 381.9 695.5 380.9 C692.4 380 689.7 380.1 687.3 380.3 C684.9 380.5 682.2 381.8 681.2 382.1" />
<path class="g" d="M681.2 382.1 L657.8 393.1 L660.8 406.4 L655.7 408.6 L671 435.5" />
<path class="g2" d="M681.2 382.6 L692.4 424.7" />
<path class="g" d="M641.5 449.2 L716.9 411.5" />
<path class="g" d="M716.9 411.5 L718.5 409.4" />
<path class="g" d="M716.4 409.9 L718.9 413.5" />
<path class="g" d="M603.2 420.2 L626.2 409 L632.3 417.2 L637.4 418.8 L640.5 417.6 L651.3 444.1" />
<path class="g" d="M604.4 421.1 L626.8 410.3" />
<path class="g" d="M626.2 409 L627.2 411.5" />
<path class="g" d="M603.2 420.2 C605.2 421.2 611 423.1 615 425.7 C619 428.4 622.8 432 627.2 435.9 C631.6 439.8 639.1 447 641.5 449.2" />
<path class="g" d="M640.5 417.6 L638.4 420.6" />
<ellipse class="g" cx="703.2" cy="428.4" rx="2.4" ry="3.2" transform="rotate(12 703.2 428.4)" style="stroke-width:1.7"/>
<ellipse class="g" cx="711.2" cy="429.8" rx="2.4" ry="3.2" transform="rotate(12 711.2 429.8)" style="stroke-width:1.7"/>
<ellipse class="g" cx="690.4" cy="434.9" rx="2.4" ry="3.2" transform="rotate(12 690.4 434.9)" style="stroke-width:1.7"/>
<ellipse class="g" cx="698.1" cy="435.9" rx="2.4" ry="3.2" transform="rotate(12 698.1 435.9)" style="stroke-width:1.7"/>
<ellipse class="g" cx="706.1" cy="437.6" rx="2.4" ry="3.2" transform="rotate(12 706.1 437.6)" style="stroke-width:1.7"/>
<ellipse class="g" cx="714.2" cy="439" rx="2.4" ry="3.2" transform="rotate(12 714.2 439)" style="stroke-width:1.7"/>
<ellipse class="g" cx="677.5" cy="441" rx="2.4" ry="3.2" transform="rotate(12 677.5 441)" style="stroke-width:1.7"/>
<ellipse class="g" cx="685.3" cy="442.4" rx="2.4" ry="3.2" transform="rotate(12 685.3 442.4)" style="stroke-width:1.7"/>
<ellipse class="g" cx="693.4" cy="444.1" rx="2.4" ry="3.2" transform="rotate(12 693.4 444.1)" style="stroke-width:1.7"/>
<ellipse class="g" cx="701.2" cy="445.7" rx="2.4" ry="3.2" transform="rotate(12 701.2 445.7)" style="stroke-width:1.7"/>
<ellipse class="g" cx="709.1" cy="447.1" rx="2.4" ry="3.2" transform="rotate(12 709.1 447.1)" style="stroke-width:1.7"/>
<ellipse class="g" cx="663.9" cy="447.5" rx="2.4" ry="3.2" transform="rotate(12 663.9 447.5)" style="stroke-width:1.7"/>
<ellipse class="g" cx="672" cy="449.2" rx="2.4" ry="3.2" transform="rotate(12 672 449.2)" style="stroke-width:1.7"/>
<ellipse class="g" cx="680.2" cy="450.6" rx="2.4" ry="3.2" transform="rotate(12 680.2 450.6)" style="stroke-width:1.7"/>
<ellipse class="g" cx="688.3" cy="452.2" rx="2.4" ry="3.2" transform="rotate(12 688.3 452.2)" style="stroke-width:1.7"/>
<ellipse class="g" cx="696.1" cy="453.2" rx="2.4" ry="3.2" transform="rotate(12 696.1 453.2)" style="stroke-width:1.7"/>
<ellipse class="g" cx="658.4" cy="456.3" rx="2.4" ry="3.2" transform="rotate(12 658.4 456.3)" style="stroke-width:1.7"/>
<ellipse class="g" cx="666.5" cy="457.7" rx="2.4" ry="3.2" transform="rotate(12 666.5 457.7)" style="stroke-width:1.7"/>
<ellipse class="g" cx="674.7" cy="458.7" rx="2.4" ry="3.2" transform="rotate(12 674.7 458.7)" style="stroke-width:1.7"/>
<ellipse class="g" cx="682.8" cy="460" rx="2.4" ry="3.2" transform="rotate(12 682.8 460)" style="stroke-width:1.7"/>
<ellipse class="g" cx="661.2" cy="464.9" rx="2.4" ry="3.2" transform="rotate(12 661.2 464.9)" style="stroke-width:1.7"/>
<ellipse class="g" cx="669.4" cy="466.5" rx="2.4" ry="3.2" transform="rotate(12 669.4 466.5)" style="stroke-width:1.7"/>
<path d="M659.4 371.4 L668.6 375.2" stroke="#1ea55a" stroke-width="3" stroke-linecap="round" fill="none"/>
<circle cx="668.6" cy="375.2" r="1.8" fill="#fff" stroke="#1ea55a" stroke-width="1.1"/>
<path d="M705.2 347.9 L714.4 351.8" stroke="#1ea55a" stroke-width="3" stroke-linecap="round" fill="none"/>
<circle cx="714.4" cy="351.8" r="1.8" fill="#fff" stroke="#1ea55a" stroke-width="1.1"/>
<circle cx="676.1" cy="417.2" r="1.1" fill="#1ea55a"/>
<circle cx="756.6" cy="426.6" r="15.4" fill="#7a1f58"/>
<text class="lbl" x="756.6" y="431.1" textLength="16.1" lengthAdjust="spacingAndGlyphs">B1</text>
<path d="M741 426.4 L729 426.4" stroke="#555" stroke-width="1" fill="none"/>
<path d="M722.2 426.4 L730.6 423.8 L730.6 429 Z" fill="#231f20"/>
<!-- blue -->
<path d="M277.4 447.6 L276 427.8 L304.4 415.7 L310.7 412.2 L357.9 390 L358.6 391.7 L340.6 401.1 L341.2 412.2 L338.5 415.7 L323.9 423.3 L314.2 430.3 L310.7 431.9 Z" fill="#fff" stroke="none"/>
<path class="b" d="M277.4 447.6 L276 427.8 L304.4 415.7 L307.5 416.7 L310.7 412.9" />
<path class="b" d="M277.4 447.6 L310.7 431.9 L314.4 430.3 L323.9 423.3 L328.1 412.2 L334.3 408.3 L337.8 410.8 L333.6 416.4 L338.5 415.7 L341.2 412.2 L338.5 402.5 L340.6 401.1 L358.6 391.7 L357.9 390 L312.8 411.1 L310 414.3 L311.1 423.3 L312.8 431" />
<path class="b" d="M276.7 428.9 L305.1 416.8 L307.5 417.8" />
<path class="b" d="M310.7 412.9 L308.6 417.8 L310.7 423.3" />
<path class="b2" d="M357.9 390.3 L340.6 398.3" />
<path class="b" d="M312.8 414.3 L338.5 402.5" />
<path class="b" d="M296.1 423.3 L307.9 430.6" />
<path class="b" d="M304.4 415.7 L296.1 423.3" />
<path class="b" d="M307.5 423.3 L309.3 430.3 L312.8 428.9 L311.1 422.6 L307.5 423.3" />
<path class="b" d="M312.8 421.2 L318.3 419.2 L320.4 423.3 L314.9 425.4 L312.8 421.2" />
<path class="b" d="M326 412.2 L321.8 423.3" />
<path class="b" d="M330.8 410.6 L335.7 415" />
<path class="b" d="M333.6 416.4 L334.3 413.6 L337.8 410.8" />
<path class="b" d="M279.4 427.2 L301.7 417.8" />
<path class="b" d="M318.3 409.4 L337.8 400.4" />
<circle class="b" cx="288.5" cy="428.9" r="2.3" fill="#fff"/>
<circle class="b" cx="346.1" cy="400" r="2.3" fill="#fff"/>
<circle cx="281.8" cy="441.4" r="0.9" fill="#2e3b9f"/>
<path class="kt" d="M288.5 431.4 L288.5 435.8" />
<path class="kt" d="M346.1 402.2 L346.1 408.3" />
<path d="M294.4 397.2 L300 399.7" stroke="#2e3b9f" stroke-width="2.2" stroke-linecap="round" fill="none"/>
<ellipse cx="294.4" cy="397.2" rx="1.7" ry="2.5" fill="#2e3b9f" transform="rotate(-20 294.4 397.2)"/>
<path d="M250 424.2 L255.6 426.9" stroke="#2e3b9f" stroke-width="2.2" stroke-linecap="round" fill="none"/>
<ellipse cx="250" cy="424.2" rx="1.7" ry="2.5" fill="#2e3b9f" transform="rotate(-20 250 424.2)"/>
<circle cx="336.4" cy="362.2" r="15.5" fill="#7a1f58"/>
<text class="lbl" x="336.4" y="366.7" textLength="16" lengthAdjust="spacingAndGlyphs">C1</text>
<path d="M336.4 377.5 L336.4 390" stroke="#555" stroke-width="1" fill="none"/>
<path d="M336.4 396.2 L333.8 388 L339 388 Z" fill="#231f20"/>
<!-- shroud -->
<path d="M359 519 L408 498 L418 508 L432 484 L465 469 L495 453 L520 463 L532 480 L540 505 L547 530 L671 591 L706 582 L722 581 L723 590 L714 592 L711 626 L683 640 L676 639 L664 642 L646 633 L644 657 L615 674 L589 672 L573 686 L408 603 L399 600 L385 551 L364 524 Z" fill="#fff" fill-opacity="0.3" stroke="none"/>
<path class="r" d="M426.3 585.5 Q424.5 584.6 426.3 583.7 L529.3 532.5 Q532 531.2 534.7 532.4 L642.3 580.4 Q645 581.6 642.1 582.4 L614.8 590.4 Q610 591.8 605.3 590.2 L557.2 573.7 Q551.5 571.8 546.3 574.8 L519.2 590.7 Q514 593.7 519.1 596.9 L551.3 617 Q555.5 619.6 551.7 622.8 L533.8 637.8 Q530 641 525.6 638.6 Z" />
<path class="r" d="M461.9 584 Q459.3 582.6 461.9 581.2 L529.2 547.4 Q531.9 546 534.6 547.3 L553.1 556.1 Q555.9 557.4 553.2 558.8 L485.8 592.9 Q482.2 594.7 478.7 592.9 Z" />
<path class="blk" d="M426.7 584.8 L431.9 581.6 L531.6 634.1 L525.9 637.9 Z"/>
<path class="blk" d="M463 567 L510.4 543.6 L517 547 L469.6 570.7 Z"/>
<path class="blk" d="M502.2 587 L549.6 563.8 L556.3 567 L508.9 590.7 Z"/>
<path class="blk" d="M528.1 535.3 L534.8 532.2 L636.7 581.9 L629.3 584.4 Z"/>
<path d="M577.4 598.1 L587 593.4 L596.6 598.1 L587 602.8 Z" fill="#231f20" stroke="#e8262d" stroke-width="1.5"/>
<path d="M647.8 570 L657.4 565.3 L667 570 L657.4 574.7 Z" fill="#231f20" stroke="#e8262d" stroke-width="1.5"/>
<path class="r" d="M416.3 582.1 L444.4 567.3 L531 524.5" />
<path class="r" d="M422.2 584.2 L532.5 527.8" />
<path class="r" d="M531 524.5 L534.5 523.6 L670 590.4" />
<path class="r" d="M533 527.6 L669.3 593" />
<path class="rt" d="M536 526.2 L670 591.6" />
<path class="r" d="M422.2 584.2 L578.9 670.7" />
<path class="r" d="M416.6 582.7 L560 668.8 L574.4 673.4" />
<path class="r" d="M422.2 583.6 C421.2 583.5 418.1 581.9 416 583 C413.9 584.1 410.9 587.3 409.5 590 C408.1 592.7 407.5 596.8 407.3 599 C407.1 601.2 408.1 602.3 408.3 603" />
<path class="r" d="M419.5 585.5 C418.3 586.6 414.1 589.4 412.5 592 C410.9 594.6 410.6 599.5 410.2 601" />
<path class="r" d="M408.1 602.6 L573 686.3" />
<path class="r" d="M573 686.3 L578.9 670.7" />
<path class="r" d="M574.4 673.4 L581.1 672.5" />
<rect class="r" x="410.7" y="599.9" width="24.8" height="5" rx="2.5" transform="rotate(33.1 423.1 602.4)"/>
<rect class="r" x="549.5" y="671.1" width="24.4" height="5" rx="2.5" transform="rotate(31.3 561.7 673.6)"/>
<path class="r" d="M359 519.2 C360.5 518.3 364.9 515.7 368.1 514.2 C371.2 512.6 374.1 511.3 377.8 510 C381.5 508.7 388.2 506.9 390.3 506.2" />
<path class="r" d="M390.3 506.2 L408.3 498.2" />
<path class="r" d="M408.7 498.1 L414.6 505.2 L418 508.5" />
<path class="r" d="M361.1 516.7 C362.5 516 366.4 514 369.4 512.8 C372.5 511.6 375.7 510.4 379.2 509.4 C382.6 508.5 388.4 507.6 390.3 507.2" />
<path class="r" d="M359 519.2 C359.3 519.7 359.6 521.4 360.4 522.2 C361.2 523 361.8 522 363.9 523.9 C366 525.7 369.4 528.8 372.9 533.3 C376.4 537.9 381.4 544.4 384.7 551.4 C388.1 558.3 390.7 566.9 393.1 575 C395.4 583.1 397.7 595.8 398.6 600" />
<path class="r" d="M366.7 522.2 C368.2 523.8 372.3 527.3 375.7 531.9 C379.1 536.6 383.4 543.1 386.8 550.3 C390.2 557.5 393.2 566.7 395.8 575 C398.5 583.3 401.6 595.8 402.8 600" />
<path class="r" d="M363.9 523.9 L366.7 522.2 L364.6 518.8" />
<path class="r" d="M398.6 600 L399.6 603 L402 604.5 L404.7 604 L409.4 602.5" />
<path class="r" d="M402.8 600 L404.7 604" />
<path class="r" d="M384.7 551.6 L388.8 550.3" />
<path class="r2" d="M390.3 506.7 C391.9 507.4 396.8 508.9 400 511.1 C403.2 513.4 406 515.7 409.7 520.1 C413.4 524.5 418.1 530.9 422.2 537.5 C426.4 544.1 431.2 554.6 434.7 559.7 C438.2 564.9 441.9 566.9 443.3 568.3" />
<path class="r" d="M391.7 508.6 C393.1 509.3 397.2 510.7 400 512.8 C402.8 514.8 405.1 516.8 408.3 520.8 C411.6 524.8 415.5 530.3 419.4 536.8 C423.4 543.3 429.9 555.9 431.9 559.7" />
<path class="r" d="M366.7 522.2 C368.1 521.3 372 518.5 375 516.7 C378 514.8 381.9 512.5 384.7 511.1 C387.5 509.8 390.5 509 391.7 508.6" />
<path class="r" d="M384.7 551.4 L419.4 539.6" />
<path class="r" d="M386.8 552.1 L400.7 580.6 L411.1 574.6 L411.8 573.6 L423.6 568.8 L422.9 565.6 L434.7 561.1 L431.9 559.7" />
<path class="r" d="M411.1 570.8 L422.9 565.3" />
<path class="r" d="M411.1 570.8 L411.8 573.6" />
<path class="r" d="M443.3 568.3 L433.3 549.3" />
<ellipse class="rt" cx="383.3" cy="526.1" rx="2.6" ry="3.5" transform="rotate(-10 383.3 526.1)" style="stroke-width:0.95"/>
<ellipse class="rt" cx="383.3" cy="525.5" rx="1.5" ry="2.1" transform="rotate(-10 383.3 525.5)" />
<ellipse class="rt" cx="389.9" cy="522.6" rx="2.6" ry="3.5" transform="rotate(-10 389.9 522.6)" style="stroke-width:0.95"/>
<ellipse class="rt" cx="389.9" cy="522" rx="1.5" ry="2.1" transform="rotate(-10 389.9 522)" />
<ellipse class="rt" cx="396.2" cy="519" rx="2.6" ry="3.5" transform="rotate(-10 396.2 519)" style="stroke-width:0.95"/>
<ellipse class="rt" cx="396.2" cy="518.4" rx="1.5" ry="2.1" transform="rotate(-10 396.2 518.4)" />
<ellipse class="rt" cx="391.7" cy="529.9" rx="2.6" ry="3.5" transform="rotate(-10 391.7 529.9)" style="stroke-width:0.95"/>
<ellipse class="rt" cx="391.7" cy="529.3" rx="1.5" ry="2.1" transform="rotate(-10 391.7 529.3)" />
<ellipse class="rt" cx="398.6" cy="526.4" rx="2.6" ry="3.5" transform="rotate(-10 398.6 526.4)" style="stroke-width:0.95"/>
<ellipse class="rt" cx="398.6" cy="525.8" rx="1.5" ry="2.1" transform="rotate(-10 398.6 525.8)" />
<ellipse class="rt" cx="394.4" cy="539.6" rx="2.6" ry="3.5" transform="rotate(-10 394.4 539.6)" style="stroke-width:0.95"/>
<ellipse class="rt" cx="394.4" cy="539" rx="1.5" ry="2.1" transform="rotate(-10 394.4 539)" />
<ellipse class="rt" cx="400.7" cy="535.4" rx="2.6" ry="3.5" transform="rotate(-10 400.7 535.4)" style="stroke-width:0.95"/>
<ellipse class="rt" cx="400.7" cy="534.8" rx="1.5" ry="2.1" transform="rotate(-10 400.7 534.8)" />
<ellipse class="rt" cx="407.2" cy="531.7" rx="2.6" ry="3.5" transform="rotate(-10 407.2 531.7)" style="stroke-width:0.95"/>
<ellipse class="rt" cx="407.2" cy="531.1" rx="1.5" ry="2.1" transform="rotate(-10 407.2 531.1)" />
<ellipse class="rt" cx="372.9" cy="516.4" rx="4" ry="1.2" transform="rotate(-25 372.9 516.4)" />
<path class="r" d="M431.7 483.7 L419.8 503 L424.3 501.5 L427.2 505.9" />
<path class="r" d="M440.6 482.2 L428 503.7" />
<path class="rt" d="M436.9 484.4 L426.5 502.6" />
<path class="r" d="M414.6 504.1 C415.1 503.8 416.4 502.6 417.6 502.6 C418.8 502.6 421.3 503.6 422 503.9" />
<path class="r" d="M418 508.5 L423.5 506.3 L425 508.9" />
<path class="r" d="M441.3 483 L445.4 494.1 L444.3 495.9 L437.6 498.5 L435.7 495.6 L440.6 492.6 L442 489.6" />
<path class="rt" d="M443.5 483 L445.7 493.7" />
<path class="r" d="M440.6 492.6 L443.9 495.4" />
<path class="r" d="M437.6 498.5 L439.1 500.4 L438.7 505.9 L446.1 510.7 L439.8 513.3 L432.4 508.1 L425.4 508.1" />
<path class="r" d="M439.1 500.4 L440.9 500 L452.4 511.1 L439.8 517.4 L426.1 509.3" />
<path class="rt" d="M427.2 511.1 L432.8 509.8 L439.7 515.2 L449.4 511.1" />
<path class="r" d="M425 508.9 L436.9 538.5 L438.3 539.3 L457.2 528.9 L452.4 511.1" />
<path class="r" d="M439.8 517.4 L437.6 538.9" />
<path class="rt" d="M441.4 517.8 L438.9 538.5" />
<path class="r2" d="M431.7 483.7 L445 474.8 L465.7 464.4 L479.8 457.8" />
<path class="r" d="M433.5 484.8 L445.6 476.9 L464.3 467.8" />
<path class="r" d="M440.6 482.2 L446.5 478.5" />
<path class="r2" d="M430 485.8 C432.5 483.9 439.5 478 445.3 474 C451.1 470.1 458.9 465.3 464.7 462.2 C470.5 459.1 474.9 456.9 480 455.3 C485.1 453.7 490.6 452.8 495.3 452.8 C499.9 452.8 503.8 453.6 507.8 455.3 C511.7 457 515.2 459 518.9 462.9 C522.6 466.9 526.5 471.8 530 478.9 C533.5 485.9 536.9 496.7 539.7 505.3 C542.5 513.8 545.7 526.1 546.9 530.3" />
<path class="r" d="M432.8 485.1 C435.1 483.4 441.2 478.3 446.7 474.7 C452.1 471.2 459.7 466.8 465.4 463.9 C471.1 460.9 475.7 458.6 480.7 457.1 C485.7 455.6 491 454.8 495.3 454.9 C499.6 454.9 502.8 455.6 506.4 457.2 C510 458.9 513.3 461 516.8 464.7 C520.3 468.4 524 472.8 527.2 479.6 C530.5 486.3 534.4 500.2 536.2 505.3 C538.1 510.4 538 509.3 538.3 510.1" />
<path class="r" d="M464.7 467.8 C466.8 467.7 473.3 466.3 477.2 467.1 C481.2 467.9 484.9 469.7 488.3 472.6 C491.8 475.5 495.5 480.2 498.1 484.4 C500.6 488.7 502.2 492.8 503.6 498.3 C505 503.9 506.2 511.5 506.7 517.8 C507.1 524 506.2 532.8 506.1 535.8" />
<path class="r" d="M466.4 469.4 C468.1 469.4 473.1 468.1 476.5 468.9 C480 469.7 483.6 471.3 486.9 474 C490.3 476.7 493.9 481 496.4 485.1 C498.9 489.3 500.6 493.6 501.9 499 C503.3 504.5 504.3 511.9 504.7 517.8 C505.1 523.7 504.4 531.7 504.3 534.4" />
<path class="r" d="M445.3 474 L464.7 467.8" />
<path class="r" d="M446.4 475.8 L464.7 469.7" />
<path class="r" d="M505 496.2 L526.5 483.1" />
<path class="r" d="M507.8 523.3 L509.9 525 L516.8 521.9 L517.5 522.2 L520.3 520.1 L524.4 520.6 L527.2 517.1 L536.9 512.2 L538.3 510.1" />
<path class="r" d="M516.8 521.9 L516.8 517.1 L526.5 513.2 L527.2 517.1" />
<path class="r" d="M507.1 520.6 L507.8 523.3" />
<ellipse class="rt" cx="494.3" cy="469.6" rx="2.6" ry="3.5" transform="rotate(-10 494.3 469.6)" style="stroke-width:0.95"/>
<ellipse class="rt" cx="494.3" cy="469" rx="1.5" ry="2.1" transform="rotate(-10 494.3 469)" />
<ellipse class="rt" cx="501.2" cy="466.4" rx="2.6" ry="3.5" transform="rotate(-10 501.2 466.4)" style="stroke-width:0.95"/>
<ellipse class="rt" cx="501.2" cy="465.8" rx="1.5" ry="2.1" transform="rotate(-10 501.2 465.8)" />
<ellipse class="rt" cx="507.8" cy="463.6" rx="2.6" ry="3.5" transform="rotate(-10 507.8 463.6)" style="stroke-width:0.95"/>
<ellipse class="rt" cx="507.8" cy="463" rx="1.5" ry="2.1" transform="rotate(-10 507.8 463)" />
<ellipse class="rt" cx="503.2" cy="473.3" rx="2.6" ry="3.5" transform="rotate(-10 503.2 473.3)" style="stroke-width:0.95"/>
<ellipse class="rt" cx="503.2" cy="472.7" rx="1.5" ry="2.1" transform="rotate(-10 503.2 472.7)" />
<ellipse class="rt" cx="510.1" cy="470.3" rx="2.6" ry="3.5" transform="rotate(-10 510.1 470.3)" style="stroke-width:0.95"/>
<ellipse class="rt" cx="510.1" cy="469.7" rx="1.5" ry="2.1" transform="rotate(-10 510.1 469.7)" />
<ellipse class="rt" cx="505.7" cy="481.7" rx="2.6" ry="3.5" transform="rotate(-10 505.7 481.7)" style="stroke-width:0.95"/>
<ellipse class="rt" cx="505.7" cy="481.1" rx="1.5" ry="2.1" transform="rotate(-10 505.7 481.1)" />
<ellipse class="rt" cx="512.4" cy="478.9" rx="2.6" ry="3.5" transform="rotate(-10 512.4 478.9)" style="stroke-width:0.95"/>
<ellipse class="rt" cx="512.4" cy="478.3" rx="1.5" ry="2.1" transform="rotate(-10 512.4 478.3)" />
<ellipse class="rt" cx="518.9" cy="476.8" rx="2.6" ry="3.5" transform="rotate(-10 518.9 476.8)" style="stroke-width:0.95"/>
<ellipse class="rt" cx="518.9" cy="476.2" rx="1.5" ry="2.1" transform="rotate(-10 518.9 476.2)" />
<ellipse class="rt" cx="482.8" cy="459.7" rx="4.2" ry="1.2" transform="rotate(-18 482.8 459.7)" />
<path class="r" d="M464.7 471.9 L477.2 525 L505.7 536.5" />
<path class="r" d="M466.8 471.2 L479.3 523.3 L506.4 534.4" />
<path class="r" d="M477.2 525 L432.8 546.9" />
<path class="r" d="M477.5 527.2 L432.8 549.7" />
<circle cx="421" cy="524" r="1" fill="#e8262d"/>
<circle cx="466.3" cy="501" r="1" fill="#e8262d"/>
<path class="r" d="M541.9 640.4 L578.9 618.9 L609.3 632.2" />
<path class="r" d="M541.9 640.4 L580.4 662.6" />
<path class="r" d="M547.8 642.6 L578.1 626.3 L599.6 636.7" />
<path class="r" d="M547.8 642.6 L552.2 644.8" />
<path class="r" d="M578.9 619.6 L578.1 626.3" />
<path class="rt" d="M581.1 620.4 L580.7 627" />
<path class="rt" d="M550.7 644.1 L578.9 629 L596.7 638.1" />
<path class="r" d="M575.2 650 L584.1 645.6 L591.5 648.5 L586.3 655.9 L575.2 650" />
<path class="r" d="M533 648.5 L581.1 673" />
<path class="r" d="M591.7 615.4 Q590 614.4 591.8 613.5 L597.9 610.2 Q599.6 609.3 601.4 610.2 L621.9 620.9 Q623.6 621.9 621.9 622.9 L615.4 626.8 Q613.7 627.8 612 626.8 Z" />
<path class="r" d="M613 629.6 L615.2 624.8 L624.8 620.1" />
<path class="r" d="M608.5 602.6 L647 588.5 L670.7 599.9" />
<path class="r" d="M608.5 602.6 L618.9 607.8" />
<path class="r" d="M617.4 607 L647 595.2 L657.4 600.4" />
<path class="r" d="M647 588.5 L647 595.2" />
<path class="rt" d="M650 589.6 L649.7 596.4" />
<path class="rt" d="M619.6 609.3 L647.8 597.4 L655.9 601.9" />
<path class="r" d="M618.9 607.8 L629.3 615.9" />
<path class="rt" d="M650 590 L670 599.6" />
<path class="rt" d="M649.3 592.2 L669.3 601.9" />
<path class="r" d="M581.9 672.2 C583.1 669.3 586.3 659.4 589.3 654.4 C592.2 649.5 595.7 646.3 599.6 642.6 C603.6 638.9 607.3 636.4 613 632.2 C618.6 628 627.8 621.4 633.7 617.4 C639.6 613.5 644.1 610.2 648.5 608.5 C653 606.8 658.4 607.3 660.4 607" />
<path class="r" d="M588.5 672.5 C589.6 670.2 592.1 663.1 595.2 658.9 C598.3 654.6 602.6 651 607 647 C611.5 643.1 615.9 639.1 621.9 635.2 C627.8 631.2 636 627 642.6 623.3 C649.1 619.6 658 614.7 661.1 613" />
<path class="rt" d="M583.6 669.3 C584.9 666.9 588.1 659.3 591 655.2 C594 651 597.2 647.9 601.1 644.4 C605 640.8 608.9 638.1 614.4 634 C620 629.9 628.8 623.4 634.4 619.6 C640.1 615.8 644.4 612.8 648.5 611.2 C652.6 609.5 657.2 610 658.9 609.7" />
<path class="r" d="M660.4 607 L661.9 612.2 L669.3 610.7 L674.4 609.3" />
<path class="r" d="M581.9 672.2 L585.1 673.4 L588.5 672.5" />
<path class="r" d="M648.5 608.5 C647.8 608.5 645.2 608.6 644.1 608.2 C643 607.9 641.9 607 641.9 606.3 C641.9 605.6 643 604.5 644.1 604.1 C645.2 603.7 646 603.3 648.5 603.8 C651 604.2 657.2 606.2 658.9 606.7" />
<path class="r" d="M601.1 653 L601.1 671.5" />
<path class="r" d="M606.3 641.4 L606.3 674" />
<path class="r" d="M615.2 639.3 L615.2 674.4" />
<path class="rt" d="M610 640.4 L610 674.4" />
<path class="rt" d="M618.9 635.9 L618.6 640.4" />
<path class="r" d="M647 622.1 L644.1 657.7 L615.2 674.4 L610.7 675.5 L606.3 674 L601.1 671.5 L595.2 674.4 L589.3 672.5" />
<path class="rt" d="M593.7 660.4 L594 674" />
<path class="rt" d="M597.4 655.9 L597.9 673" />
<path class="rt" d="M646 622.6 L643.2 657.1 L615.9 673" />
<path class="r" d="M646.4 622.2 L645.7 633.3 L664.4 642.4 L669.3 638.9 L677.6 641" />
<path class="r" d="M662.4 615.3 L662.4 641" />
<path class="r" d="M668.6 613.9 L668.6 636.8" />
<path class="rt" d="M665.8 615 L665.8 641.7" />
<path class="rt" d="M647.1 631.9 L664.4 640.3" />
<path class="r" d="M659.6 613.2 C660.6 613 663.4 612.4 665.8 611.8 C668.3 611.2 672.8 610.1 674.2 609.7" />
<path class="r" d="M670.7 595.8 L670 609" />
<path class="r" d="M673.5 595.8 L673.1 610.4" />
<path class="r" d="M671.4 591 L688.1 592.4 L722.1 581.9 L706.1 581.9 L671.4 591" />
<path class="r" d="M671.4 591 L671.4 595.1 L688.1 596.5 L688.1 592.4" />
<path class="r" d="M688.1 596.5 L689.4 598.6 L714.4 591.7 L722.8 589.6 L722.1 581.9" />
<path class="rt" d="M689.4 594.7 L720.7 584.4" />
<path class="r" d="M675.6 596.5 L676.2 639.2 L679.7 641.7 L683.2 640.3 L711 625.7 L714.4 591.7" />
<path class="r" d="M683.2 597.9 L683.2 640.3" />
<path class="rt" d="M679 597.2 L679.4 641" />
<path class="rt" d="M681.1 597.5 L681.4 641" />
<path class="rt" d="M684.2 638.9 L710 624.7 L713.3 592.4" />
<path class="r" d="M712.4 612.5 C712.6 613 713.6 614.4 713.8 615.3 C713.9 616.2 713.2 617.6 713.1 618.1" />
<path class="r" d="M714.4 591.7 L720 585.4" />
<rect class="r" x="362.4" y="623" width="22.6" height="5" rx="2.5" transform="rotate(34.6 373.8 625.5)"/>
<rect class="r" x="502.2" y="695.5" width="24" height="5" rx="2.5" transform="rotate(35.4 514.2 698)"/>
<rect class="r" x="563.4" y="525.8" width="24.1" height="5" rx="2.5" transform="rotate(33.3 575.5 528.2)"/>
<rect class="r" x="730.5" y="584" width="21.6" height="5" rx="2.5" transform="rotate(28.9 741.2 586.5)"/>
<path class="" d="M530 533.5 L592 564.5" stroke="#e6e6e6" stroke-width="0.9" stroke-dasharray="3.7 3.8" fill="none"/>
<!-- frame -->
<ellipse class="k" cx="427.2" cy="715.6" rx="8" ry="5.1" />
<ellipse class="k" cx="427.2" cy="716.2" rx="6.7" ry="4" />
<path class="k" d="M419.2 716.7 C419.3 718.1 419.1 722.8 419.7 725.6 C420.3 728.3 422.3 728.9 422.8 733.3 C423.3 737.8 422.8 749.1 422.8 752.2" />
<path class="k" d="M435.2 716.7 C435 718.1 434.4 723.5 434.1 725.6 C433.8 727.6 433.5 728.3 433.3 728.9" />
<path class="k" d="M411.7 713.3 L415 709.4 L419.2 711.1" />
<path class="k" d="M411.7 713.3 C412 713.9 412.9 715.8 413.9 716.7 C414.9 717.5 417.1 718.1 417.8 718.3" />
<path class="k" d="M418.9 720 C418 721.7 414.7 726.7 413.3 730 C411.9 733.3 411 738.3 410.6 740" />
<path class="k" d="M436.1 719.4 C437.4 719.9 440.7 720.5 443.9 722.2 C447 724 453.1 728.7 455 730" />
<path class="k" d="M428.3 743.3 L436.1 763.3 L439.4 762.2 L433.3 742.2" />
<path class="kw" d="M401.7 745.6 L463.9 713.3 L467.8 721.1 L405.6 753.3 Z" />
<path class="k2" d="M401.7 745.8 L405.6 753.3" />
<ellipse class="k" cx="412.8" cy="744.2" rx="1.6" ry="2.1" transform="rotate(15 412.8 744.2)" />
<ellipse class="k" cx="420" cy="740.6" rx="1.6" ry="2.1" transform="rotate(15 420 740.6)" />
<ellipse class="k" cx="427.4" cy="736.7" rx="1.6" ry="2.1" transform="rotate(15 427.4 736.7)" />
<ellipse class="k" cx="434.8" cy="733.1" rx="1.6" ry="2.1" transform="rotate(15 434.8 733.1)" />
<ellipse class="k" cx="442.4" cy="729.2" rx="1.6" ry="2.1" transform="rotate(15 442.4 729.2)" />
<ellipse class="k" cx="449.8" cy="725.8" rx="1.6" ry="2.1" transform="rotate(15 449.8 725.8)" />
<ellipse class="k" cx="457.2" cy="722" rx="1.6" ry="2.1" transform="rotate(15 457.2 722)" />
<circle cx="407" cy="747.2" r="1.3" fill="#231f20"/>
<circle cx="462.6" cy="719.4" r="1.3" fill="#231f20"/>
<path class="k" d="M409.4 756.7 L408.9 782.2 L413.9 788.9 L429.4 792.8" />
<path class="k2" d="M409.4 756.7 L429.4 792.8" />
<ellipse class="k" cx="406.1" cy="766.7" rx="2.4" ry="2.4" />
<path class="k" d="M421.1 752.2 C421.6 753.9 423.1 759.4 424.1 762.2 C425.1 765 425.6 765.9 427.2 768.9 C428.9 771.9 432.8 778.1 433.9 780" />
<path class="k" d="M433.9 780 L480 808.9 L598.5 883" />
<path class="k" d="M429.4 792.8 L480 822.2 L584.4 885.6" />
<path class="k" d="M462 812.6 L520 849.8 L583.7 889.2" />
<path class="k" d="M455 730 C456.9 732.2 461.9 738.3 466.1 743.3 C470.4 748.3 478.1 757.2 480.6 760" />
<path class="k2" d="M466.1 743.3 L480.6 760" />
<path class="k" d="M480.6 760 L480 758.5 L635.6 825.2" />
<path class="k" d="M442.8 734.4 C445.2 737 453.9 745.7 457.2 750 C460.6 754.3 460.6 757.2 462.8 760 C465 762.8 469.3 765.6 470.6 766.7" />
<path class="k" d="M470.6 766.7 L480 772.6 L611.9 824.7" />
<path class="k" d="M457.2 750.6 C458.9 752.8 464.6 760.8 467.2 763.9 C469.8 766.9 471.9 768.1 472.8 768.9" />
<path class="k" d="M425.6 766.1 L456.7 750.9" />
<path class="k" d="M429.4 772.2 L461.7 757.8" />
<path class="k" d="M433.3 779.4 L466.1 764.4" />
<ellipse class="k" cx="443.9" cy="771.1" rx="3.8" ry="4.4" transform="rotate(20 443.9 771.1)" />
<ellipse class="k" cx="443.9" cy="771.1" rx="2.2" ry="2.8" transform="rotate(20 443.9 771.1)" />
<ellipse class="k" cx="443.9" cy="771.7" rx="1" ry="1.2" transform="rotate(20 443.9 771.7)" />
<ellipse class="k" cx="451.1" cy="744.4" rx="3.1" ry="3.6" />
<ellipse class="k" cx="456.7" cy="764.4" rx="1" ry="0.7" transform="rotate(-30 456.7 764.4)" />
<path class="k" d="M453.3 775.6 L472.8 786.1" />
<path class="k" d="M452.2 779.4 L471.7 791.7" />
<ellipse class="kw" cx="473.9" cy="788.9" rx="2.4" ry="3.3" transform="rotate(20 473.9 788.9)" />
<path class="kf" d="M452.8 776.1 L458.3 778.9 L457.2 782.2 L452.2 779.4 Z" />
<path class="kw" d="M422.2 815.9 L455.6 799.6 L462 803.9 L462 812.6 L430.6 821.9 L427.8 819.6 Z" />
<ellipse class="k" cx="438.9" cy="811.3" rx="2" ry="1.5" transform="rotate(-20 438.9 811.3)" />
<ellipse class="k" cx="446.3" cy="807.6" rx="2" ry="1.5" transform="rotate(-20 446.3 807.6)" />
<ellipse class="k" cx="454.1" cy="804.3" rx="2" ry="1.5" transform="rotate(-20 454.1 804.3)" />
<circle cx="433" cy="815" r="0.7" fill="#231f20"/>
<path class="k" d="M427.8 819.6 L462 804.8" />
<path class="kw" d="M511.1 772.4 L546.3 756.3 L551.9 758.5 L548.1 763.1 L528.7 779.3 L518.5 775.2 Z" />
<ellipse class="k" cx="519.4" cy="770.6" rx="2" ry="1.5" transform="rotate(-20 519.4 770.6)" />
<ellipse class="k" cx="527.4" cy="767.2" rx="2" ry="1.5" transform="rotate(-20 527.4 767.2)" />
<ellipse class="k" cx="534.8" cy="763.5" rx="2" ry="1.5" transform="rotate(-20 534.8 763.5)" />
<circle cx="542.2" cy="760.4" r="0.7" fill="#231f20"/>
<path class="k" d="M518.5 775.2 L550.9 760" />
<path class="kw" d="M486.7 849.3 L515.7 835.4 L520.4 840 L519.4 847 L496.3 853.3 L493.5 851.1 Z" />
<ellipse class="k" cx="502.8" cy="843.7" rx="2" ry="1.5" transform="rotate(-20 502.8 843.7)" />
<ellipse class="k" cx="510.7" cy="840" rx="2" ry="1.5" transform="rotate(-20 510.7 840)" />
<circle cx="497.2" cy="846.5" r="0.7" fill="#231f20"/>
<path class="k" d="M493.5 851.1 L520 840.9" />
<path class="kw" d="M580.7 801.5 L610.4 787.9 L616.3 791.9 L612.6 795.6 L597 807.4 L588.9 804.4 Z" />
<ellipse class="k" cx="591.1" cy="799.3" rx="1.6" ry="1.2" transform="rotate(-20 591.1 799.3)" />
<ellipse class="k" cx="598.5" cy="795.6" rx="1.6" ry="1.2" transform="rotate(-20 598.5 795.6)" />
<circle cx="605.9" cy="791.9" r="0.7" fill="#231f20"/>
<path class="k" d="M588.9 804.4 L615.6 792.9" />
<path class="k" d="M503.7 822.2 L550.4 799.3" />
<path class="k2" d="M550.6 799.4 L611.1 825" />
<path class="k" d="M552.8 801.1 L562.2 812.2" />
<path class="k" d="M521.5 833.3 L562.2 812.1" />
<path class="k" d="M562.2 812.2 L592.2 828.3 L598.9 829.4 L611.1 825 L611.1 830.6 L603.3 835" />
<path class="kt" d="M556.1 804.2 L596.7 823.9" />
<path class="k" d="M532.6 840.7 L574.5 819.4" />
<path class="k" d="M574.4 819.4 L592.2 827.8" />
<path class="k2" d="M553.9 852.8 L572.8 842.2 L574.4 837.2 L590 829.4" />
<path class="k" d="M574.4 837.8 L584.4 850.6 L592.2 847.8" />
<path class="k" d="M574.4 837.2 L583.3 835 L615.6 842.2" />
<path class="k2" d="M562.2 857.8 L581.1 847.8" />
<path class="k" d="M572.8 863.9 L597.8 853.3 L606.7 856.7" />
<path class="k2" d="M572.8 863.9 L579.4 868.3" />
<path class="k" d="M579.4 868.3 L606.7 858" />
<ellipse class="k" cx="593.3" cy="850.9" rx="1.4" ry="2.4" transform="rotate(-30 593.3 850.9)" />
<ellipse class="k" cx="595.6" cy="856.7" rx="2.2" ry="1.3" />
<ellipse class="k" cx="583.3" cy="862.2" rx="2.2" ry="1.3" />
<ellipse class="k" cx="623.3" cy="841.7" rx="2.4" ry="1.4" />
<path class="k" d="M615.6 842.2 L624.4 838.9 L634.4 842.2 L625.6 846.1 Z" />
<path class="k" d="M587.8 872.8 L606.7 865.6" />
<path class="k" d="M594.4 877.8 L606.7 872.8" />
<circle cx="583.1" cy="837.2" r="0.6" fill="#444"/>
<circle cx="630.6" cy="851.7" r="0.6" fill="#444"/>
<path class="kw" d="M606.1 856.7 L636.1 845.6 L638.3 847.8 L637.2 866.7 L633.9 869.4 L630 867.8 L606.7 877.8" />
<path class="k" d="M606.1 856.7 L606.7 877.8" />
<ellipse class="k" cx="612.2" cy="862.8" rx="1.4" ry="2.4" transform="rotate(-15 612.2 862.8)" />
<ellipse class="k" cx="621.7" cy="867.2" rx="1.2" ry="2.1" transform="rotate(-15 621.7 867.2)" />
<path class="k2" d="M621.7 859.4 L630.6 856.1 L631.1 863.9 Z" />
<ellipse class="kw" cx="646" cy="797.8" rx="10.8" ry="5.8" />
<ellipse class="k" cx="646" cy="798.2" rx="9.2" ry="4.6" />
<path class="k" d="M635.3 797.8 L636.2 867.2" />
<path class="k" d="M656.7 797.8 L656.7 867.2" />
<path class="k" d="M636.2 867.2 C637.1 868 638.9 870.7 641.1 871.7 C643.3 872.6 646.9 873.5 649.4 872.8 C652 872 655.5 868.1 656.7 867.2" />
<path class="kw" d="M652.2 809.6 L657.8 808.9 L663.3 812.4 L664 817.9 L659.9 822.1 L661.9 826.9 L668.2 827.6 L668.9 856.1 L655.7 862.4 L652.2 861.7 L655.7 853.3 L655.7 842.2 L652.9 841.5 L653.3 835.3 L657.8 833.2 L652.2 831.1 Z" />
<path class="k2" d="M659.2 839.4 L665.4 836.7 L665.4 850.6 L659.9 852.6 Z" />
<ellipse class="k" cx="659.4" cy="815.6" rx="1.5" ry="1.8" />
<ellipse class="k" cx="659.4" cy="831.8" rx="1.5" ry="1.8" />
<ellipse class="k" cx="664" cy="855" rx="1.2" ry="0.7" transform="rotate(-25 664 855)" />
<ellipse class="k" cx="638.3" cy="828.1" rx="1.2" ry="2.2" />
<path class="k" d="M609.9 892.5 L688.3 854.3" />
<path class="k" d="M597.4 885 L635.6 865.8" />
<path class="k" d="M633.5 891.1 L687.6 865.8" />
<path class="k" d="M670.3 838.1 L680 841.1 L697.4 849.9" />
<path class="k2" d="M680 841.1 L697.4 849.9" />
<path class="k" d="M657.1 858.9 L680 847.8" />
<path class="k" d="M668.9 842.2 L680 841.1" />
<path class="k" d="M584.9 879.7 L593.9 885.3 L593.9 895.7 L584.9 890.1 Z" />
<path class="k2" d="M593.9 885.3 L609.9 892.5" />
<path class="k" d="M593.9 895.7 L611.2 905.4" />
<path class="k" d="M584.9 879.7 L580 876.9" />
<path class="k" d="M580 867.2 L598.1 861" />
<path class="k" d="M580 879.7 L598.1 885.3" />
<path class="k" d="M620.3 888.1 C621.6 888.2 625.7 887.7 627.9 888.8 C630.1 889.8 632.3 892.1 633.5 894.3 C634.6 896.5 635.4 899.4 634.9 901.9 C634.3 904.5 632 907.8 630 909.6 C628 911.4 624.7 912.9 623.1 912.8 C621.4 912.7 620.7 909.5 620.3 908.9" />
<path class="k" d="M612.6 905.4 C612.7 904.3 612.3 900.1 613.1 898.5 C613.8 896.9 615.8 895.5 617.2 895.7 C618.6 895.9 620.6 897.9 621.4 899.9 C622.1 901.8 621.6 906.2 621.7 907.5" />
<path class="k" d="M615.4 892.2 C616.5 892.5 620 892.2 621.7 893.6 C623.3 895 624.7 898 625.1 900.6 C625.6 903.1 624.3 907.5 624.2 908.9" />
<path class="k" d="M621.7 907.5 L624.2 908.9" />
<path class="k" d="M609.9 892.5 L615.4 892.2" />
<path class="k" d="M624.2 908.9 C624.9 908.3 627.4 905.8 628.6 905.4 C629.9 905.1 631.2 906.6 631.7 906.8" />
<path class="k" d="M697.4 849.4 C698.6 849.6 702.8 849.1 705 850.1 C707.2 851.2 709.4 853.5 710.6 855.7 C711.7 857.9 712.5 860.8 711.9 863.3 C711.4 865.9 709.1 869.2 707.1 871 C705.1 872.8 701.8 874.3 700.1 874.2 C698.5 874.1 697.8 870.9 697.4 870.3" />
<path class="k" d="M689.7 866.8 C689.8 865.6 689.4 861.5 690.1 859.9 C690.9 858.2 692.9 856.9 694.3 857.1 C695.7 857.3 697.7 859.3 698.5 861.2 C699.2 863.2 698.7 867.6 698.8 868.9" />
<path class="k" d="M692.5 853.6 C693.5 853.8 697.1 853.6 698.8 855 C700.4 856.4 701.8 859.4 702.2 861.9 C702.6 864.5 701.4 868.9 701.2 870.3" />
<path class="k" d="M698.8 868.9 L701.2 870.3" />
<path class="k" d="M686.9 853.9 L692.5 853.6" />
<path class="k" d="M701.2 870.3 C702 869.7 704.4 867.2 705.7 866.8 C706.9 866.5 708.2 868 708.8 868.2" />
<path class="k2" d="M355.4 739 L373.9 729.8" />
<path class="k" d="M373.9 729.8 L376.9 732" />
<path class="kf" d="M381.3 734.3 L385 732 L389.4 734.3 L388.7 738.7 L384.7 740.6 L381.3 738 Z" />
<ellipse class="kw" cx="393.1" cy="740.6" rx="3.3" ry="4.4" transform="rotate(20 393.1 740.6)" />
<ellipse class="k" cx="393.1" cy="740.6" rx="1.3" ry="1.8" transform="rotate(20 393.1 740.6)" />
<path class="k" d="M378.3 732.8 L380.6 733.8" />
<path class="k" d="M397.6 743.1 L401.3 745.1" />
<!-- hardware -->
<path d="M613.2 507.5 L613.2 516.5" stroke="#e8262d" stroke-width="2.7" stroke-linecap="round" fill="none"/>
<ellipse cx="613.2" cy="506" rx="2" ry="1.6" fill="#e8262d"/>
<ellipse cx="613.2" cy="533.1" rx="4.6" ry="2.4" fill="#fff" stroke="#e8262d" stroke-width="1.2"/>
<ellipse cx="613.2" cy="533.1" rx="2.1" ry="1.1" fill="none" stroke="#e8262d" stroke-width="0.8"/>
<ellipse cx="613.2" cy="557.4" rx="4.2" ry="2" fill="#e8262d"/>
<path d="M679.6 481 L679.6 490" stroke="#e8262d" stroke-width="2.7" stroke-linecap="round" fill="none"/>
<ellipse cx="679.6" cy="479.5" rx="2" ry="1.6" fill="#e8262d"/>
<ellipse cx="679.6" cy="499.5" rx="4.6" ry="2.4" fill="#fff" stroke="#e8262d" stroke-width="1.2"/>
<ellipse cx="679.6" cy="499.5" rx="2.1" ry="1.1" fill="none" stroke="#e8262d" stroke-width="0.8"/>
<ellipse cx="679.6" cy="523.5" rx="4.2" ry="2" fill="#e8262d"/>
<ellipse cx="497.5" cy="944.2" rx="4.2" ry="1.9" fill="#e8262d"/>
<ellipse cx="497.5" cy="959.3" rx="4.5" ry="2.5" fill="#fff" stroke="#e8262d" stroke-width="1.2"/>
<ellipse cx="497.5" cy="959.3" rx="2" ry="1.1" fill="none" stroke="#e8262d" stroke-width="0.8"/>
<path d="M497.5 972.5 L497.5 983.5" stroke="#e8262d" stroke-width="3" stroke-linecap="butt" fill="none"/>
<ellipse cx="497.5" cy="984.2" rx="2.7" ry="2.1" fill="#fff" stroke="#e8262d" stroke-width="1.1"/>
<ellipse cx="605.8" cy="908" rx="4.2" ry="2" fill="#e8262d"/>
<ellipse cx="606" cy="924.3" rx="4.5" ry="2.5" fill="#fff" stroke="#e8262d" stroke-width="1.2"/>
<ellipse cx="606" cy="924.3" rx="2" ry="1.1" fill="none" stroke="#e8262d" stroke-width="0.8"/>
<path d="M606 937.5 L606 948.5" stroke="#e8262d" stroke-width="3" stroke-linecap="butt" fill="none"/>
<ellipse cx="606" cy="949.2" rx="2.7" ry="2.1" fill="#fff" stroke="#e8262d" stroke-width="1.1"/>
<path d="M389.3 719 L389.3 725.5" stroke="#2e3b9f" stroke-width="2.5" stroke-linecap="round" fill="none"/>
<ellipse cx="389.3" cy="725.5" rx="2.4" ry="2.2" fill="#2e3b9f"/>
<path d="M449.8 690.5 L449.8 697" stroke="#2e3b9f" stroke-width="2.5" stroke-linecap="round" fill="none"/>
<ellipse cx="449.8" cy="697" rx="2.4" ry="2.2" fill="#2e3b9f"/>
<ellipse class="" cx="377.9" cy="464.9" rx="6.2" ry="1.6" transform="rotate(-17 377.9 464.9)" fill="#231f20" stroke="#e8262d" stroke-width="0.8"/>
<ellipse class="" cx="470.5" cy="415.3" rx="6.2" ry="1.6" transform="rotate(-17 470.5 415.3)" fill="#231f20" stroke="#e8262d" stroke-width="0.8"/>
</svg>
</body></html>
